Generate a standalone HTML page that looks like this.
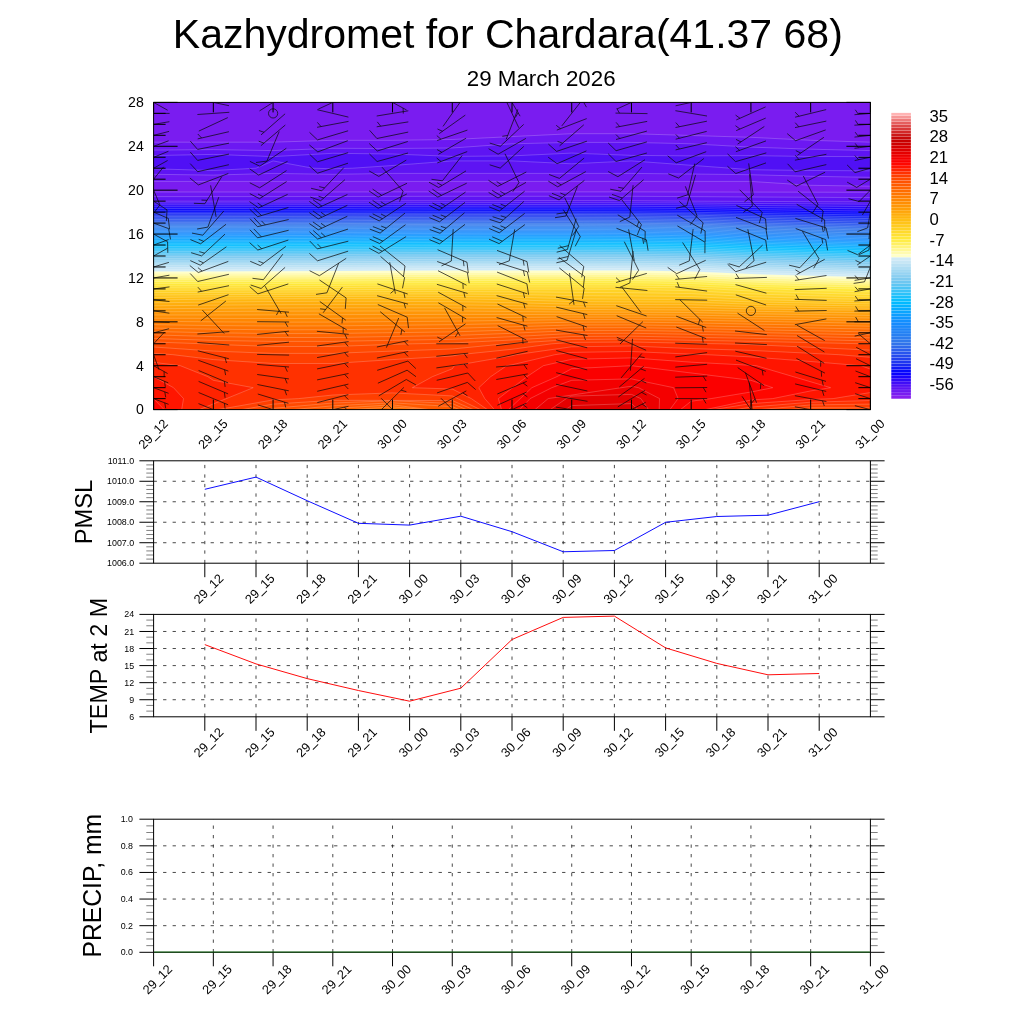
<!DOCTYPE html>
<html><head><meta charset="utf-8"><title>Meteogram</title>
<style>html,body{margin:0;padding:0;background:#fff}svg{display:block}text{font-family:'Liberation Sans', sans-serif;fill:#000;filter:grayscale(1)}</style></head><body>
<svg width="1024" height="1024" viewBox="0 0 1024 1024">
<rect width="1024" height="1024" fill="#fff"/>
<text x="507.80" y="47.50" font-size="41.00" text-anchor="middle" >Kazhydromet for Chardara(41.37 68)</text>
<text x="541.20" y="86.40" font-size="22.30" text-anchor="middle" >29 March 2026</text>
<defs><clipPath id="cp"><rect x="153.60" y="102.40" width="716.80" height="307.20"/></clipPath></defs>
<g clip-path="url(#cp)" stroke="#fff" stroke-opacity="0.42" stroke-width="0.5">
<rect x="151.60" y="100.40" width="720.80" height="311.20" fill="#8820ee" stroke="none"/>
<path fill="#7a1cf0" d="M873.4,99.4L873.4,412.6L150.6,412.6L150.6,99.4Z"/>
<path fill="#6c18f2" d="M571.7,133.7L631.5,133.7L750.9,137.3L810.7,140.3L870.4,142.2L873.4,142.2L873.4,186.2L870.4,186.2L810.7,185.3L750.9,181.4L150.6,181.4L150.6,142.2L273.1,142.2L332.8,140.3L392.5,140.3L452.3,139.5ZM213.3,192.0L273.1,192.0L332.8,192.0L392.5,191.9L452.3,191.9L512.0,191.9L571.7,191.9L631.5,191.9L691.2,192.0L750.9,192.1L810.7,192.2L870.4,192.3L873.4,192.3L873.4,412.6L150.6,412.6L150.6,192.0Z"/>
<path fill="#5e14f3" d="M512.0,143.8L571.7,142.4L631.5,142.4L691.2,143.8L750.9,147.1L810.7,149.2L870.4,150.6L873.4,150.6L873.4,177.3L870.4,177.3L810.7,176.3L750.9,174.7L691.2,174.0L631.5,173.4L392.5,173.4L332.8,174.3L273.1,173.4L213.3,175.1L153.6,174.3L150.6,174.3L150.6,150.1L153.6,150.1L213.3,149.6L273.1,150.6L332.8,148.3L392.5,148.5L452.3,148.0ZM213.3,196.6L273.1,196.6L332.8,196.5L392.5,196.4L452.3,196.3L512.0,196.3L571.7,196.3L631.5,196.3L691.2,196.6L750.9,197.0L810.7,197.3L870.4,197.6L873.4,197.6L873.4,412.6L150.6,412.6L150.6,196.6Z"/>
<path fill="#5010f5" d="M153.6,155.6L213.3,154.4L273.1,156.6L332.8,153.3L392.5,154.0L452.3,156.4L512.0,155.9L571.7,153.1L631.5,155.4L691.2,155.9L750.9,155.6L810.7,156.5L870.4,156.6L873.4,156.6L873.4,170.8L870.4,170.8L810.7,170.5L750.9,169.7L631.5,160.9L571.7,163.8L512.0,160.9L452.3,160.9L392.5,165.5L352.7,168.2L332.8,168.8L312.9,168.2L273.1,160.9L256.0,168.2L213.3,170.5L153.6,168.8L150.6,168.8L150.6,155.6ZM332.8,201.0L392.5,200.8L452.3,200.7L512.0,200.6L571.7,200.6L631.5,200.7L685.1,201.1L691.2,201.2L750.9,201.4L810.7,201.7L870.4,201.9L873.4,201.9L873.4,412.6L150.6,412.6L150.6,201.2L213.3,201.2Z"/>
<path fill="#3e0cf7" d="M213.3,203.0L273.1,203.0L332.8,202.9L392.5,202.8L452.3,202.7L512.0,202.7L571.7,202.7L631.5,202.8L691.2,203.0L750.9,203.5L810.7,203.8L870.4,204.2L873.4,204.2L873.4,412.6L150.6,412.6L150.6,203.0Z"/>
<path fill="#2c09f9" d="M213.3,204.8L273.1,204.8L332.8,204.7L392.5,204.6L452.3,204.5L512.0,204.5L571.7,204.5L631.5,204.5L691.2,204.8L750.9,205.5L810.7,206.0L870.4,206.6L873.4,206.6L873.4,412.6L150.6,412.6L150.6,204.8Z"/>
<path fill="#1b05fc" d="M213.3,206.7L273.1,206.6L332.8,206.5L392.5,206.4L452.3,206.3L512.0,206.2L571.7,206.2L631.5,206.3L691.2,206.7L750.9,207.5L810.7,208.2L870.4,208.9L873.4,208.9L873.4,412.6L150.6,412.6L150.6,206.7Z"/>
<path fill="#0902fe" d="M213.3,208.5L273.1,208.5L332.8,208.4L392.5,208.2L452.3,208.1L512.0,208.0L571.7,208.0L631.5,208.1L691.2,208.5L750.9,209.6L810.7,210.4L870.4,211.2L873.4,211.2L873.4,412.6L150.6,412.6L150.6,208.5Z"/>
<path fill="#0508fc" d="M213.3,210.3L273.1,210.3L332.8,210.2L392.5,210.0L452.3,209.8L512.0,209.8L571.7,209.8L631.5,209.9L691.2,210.4L750.9,211.6L784.6,212.1L810.7,212.5L870.4,213.2L873.4,213.2L873.4,412.6L150.6,412.6L150.6,210.3Z"/>
<path fill="#0f19f8" d="M332.8,212.0L392.5,211.7L452.3,211.6L512.0,211.6L571.7,211.6L631.5,211.7L680.1,212.1L691.2,212.2L750.9,213.3L810.7,214.2L870.4,215.0L873.4,215.0L873.4,412.6L150.6,412.6L150.6,212.2L213.3,212.2Z"/>
<path fill="#192af2" d="M213.3,213.6L273.1,213.6L332.8,213.5L392.5,213.3L452.3,213.2L512.0,213.1L571.7,213.1L631.5,213.2L691.2,213.7L750.9,214.9L810.7,215.9L870.4,216.8L873.4,216.8L873.4,412.6L150.6,412.6L150.6,213.6Z"/>
<path fill="#1f37f0" d="M213.3,215.1L273.1,215.0L332.8,214.9L392.5,214.7L452.3,214.6L512.0,214.5L571.7,214.5L631.5,214.6L691.2,215.1L750.9,216.5L810.7,217.6L870.4,218.6L873.4,218.6L873.4,412.6L150.6,412.6L150.6,215.1Z"/>
<path fill="#2241ef" d="M213.3,216.6L273.1,216.5L332.8,216.4L392.5,216.1L452.3,216.0L512.0,215.9L571.7,215.9L631.5,216.1L691.2,216.6L750.9,218.1L810.7,219.3L870.4,220.4L873.4,220.4L873.4,412.6L150.6,412.6L150.6,216.6Z"/>
<path fill="#254bee" d="M213.3,218.0L273.1,218.0L332.8,217.8L392.5,217.6L452.3,217.4L512.0,217.4L571.7,217.4L631.5,217.5L691.2,218.1L750.9,219.7L810.7,221.0L870.4,222.2L873.4,222.2L873.4,412.6L150.6,412.6L150.6,218.0Z"/>
<path fill="#2855ee" d="M213.3,219.5L273.1,219.4L332.8,219.3L392.5,219.0L452.3,218.9L512.0,218.8L571.7,218.8L631.5,218.9L691.2,219.6L750.9,221.3L810.7,222.7L829.6,223.1L870.4,223.9L873.4,223.9L873.4,412.6L150.6,412.6L150.6,219.5Z"/>
<path fill="#2b5fed" d="M213.3,221.0L273.1,220.9L332.8,220.7L392.5,220.4L452.3,220.3L512.0,220.2L571.7,220.2L631.5,220.4L691.2,221.0L750.9,222.9L758.9,223.1L810.7,224.2L870.4,225.5L873.4,225.5L873.4,412.6L150.6,412.6L150.6,221.0Z"/>
<path fill="#2e69ec" d="M213.3,222.4L273.1,222.4L332.8,222.2L392.5,221.9L452.3,221.7L512.0,221.6L571.7,221.6L631.5,221.8L691.2,222.5L709.7,223.1L750.9,224.3L810.7,225.7L870.4,227.1L873.4,227.1L873.4,412.6L150.6,412.6L150.6,222.4Z"/>
<path fill="#3173eb" d="M512.0,223.1L571.7,223.1L583.5,223.1L631.5,223.2L691.2,223.9L750.9,225.7L810.7,227.2L870.4,228.6L873.4,228.6L873.4,412.6L150.6,412.6L150.6,223.8L213.3,223.8L273.1,223.7L332.8,223.6L392.5,223.3L452.3,223.1L488.4,223.1Z"/>
<path fill="#3079ec" d="M213.3,225.1L273.1,225.0L332.8,224.9L392.5,224.6L452.3,224.4L512.0,224.3L571.7,224.3L631.5,224.5L691.2,225.2L750.9,227.1L810.7,228.7L870.4,230.2L873.4,230.2L873.4,412.6L150.6,412.6L150.6,225.1Z"/>
<path fill="#2c7cef" d="M213.3,226.4L273.1,226.3L332.8,226.2L392.5,225.8L452.3,225.7L512.0,225.6L571.7,225.6L631.5,225.8L691.2,226.5L750.9,228.6L810.7,230.2L870.4,231.8L873.4,231.8L873.4,412.6L150.6,412.6L150.6,226.4Z"/>
<path fill="#277ff2" d="M213.3,227.7L273.1,227.6L332.8,227.4L392.5,227.1L452.3,227.0L512.0,226.9L571.7,226.9L631.5,227.1L691.2,227.8L750.9,230.0L810.7,231.7L870.4,233.4L873.4,233.4L873.4,412.6L150.6,412.6L150.6,227.7Z"/>
<path fill="#2382f5" d="M213.3,229.0L273.1,228.9L332.8,228.7L392.5,228.4L452.3,228.3L512.0,228.2L571.7,228.2L631.5,228.3L691.2,229.1L750.9,231.4L810.7,233.2L841.1,234.1L870.4,234.9L873.4,234.9L873.4,412.6L150.6,412.6L150.6,229.0Z"/>
<path fill="#1f85f8" d="M213.3,230.3L273.1,230.2L332.8,230.0L392.5,229.7L452.3,229.5L512.0,229.5L571.7,229.5L631.5,229.6L691.2,230.4L750.9,232.8L792.1,234.1L810.7,234.6L870.4,236.2L873.4,236.2L873.4,412.6L150.6,412.6L150.6,230.3Z"/>
<path fill="#1a88fb" d="M213.3,231.6L273.1,231.5L332.8,231.3L392.5,231.0L452.3,230.8L512.0,230.7L571.7,230.7L631.5,230.9L691.2,231.7L748.1,234.1L750.9,234.2L810.7,236.1L870.4,237.6L873.4,237.6L873.4,412.6L150.6,412.6L150.6,231.6Z"/>
<path fill="#168bfe" d="M213.3,232.9L273.1,232.8L332.8,232.6L392.5,232.3L452.3,232.1L512.0,232.0L571.7,232.0L631.5,232.2L691.2,233.0L717.3,234.1L750.9,235.7L810.7,237.5L870.4,239.0L873.4,239.0L873.4,412.6L150.6,412.6L150.6,232.9Z"/>
<path fill="#1390ff" d="M332.8,233.9L392.5,233.6L452.3,233.4L512.0,233.3L571.7,233.3L631.5,233.5L676.1,234.1L691.2,234.3L750.9,237.1L810.7,238.9L870.4,240.4L873.4,240.4L873.4,412.6L150.6,412.6L150.6,234.2L213.3,234.2Z"/>
<path fill="#1097ff" d="M213.3,235.7L273.1,235.6L332.8,235.4L392.5,235.0L452.3,234.8L512.0,234.7L571.7,234.7L631.5,234.9L691.2,235.8L750.9,238.6L810.7,240.3L870.4,241.8L873.4,241.8L873.4,412.6L150.6,412.6L150.6,235.7Z"/>
<path fill="#0d9eff" d="M213.3,237.2L273.1,237.1L332.8,236.9L392.5,236.5L452.3,236.3L512.0,236.2L571.7,236.2L631.5,236.4L691.2,237.3L750.9,240.0L810.7,241.7L870.4,243.2L873.4,243.2L873.4,412.6L150.6,412.6L150.6,237.2Z"/>
<path fill="#0aa5ff" d="M213.3,238.7L273.1,238.6L332.8,238.4L392.5,238.0L452.3,237.9L512.0,237.8L571.7,237.8L631.5,238.0L691.2,238.8L750.9,241.5L810.7,243.2L870.4,244.6L873.4,244.6L873.4,412.6L150.6,412.6L150.6,238.7Z"/>
<path fill="#07acff" d="M213.3,240.3L273.1,240.2L332.8,240.0L392.5,239.6L452.3,239.4L512.0,239.3L571.7,239.3L631.5,239.5L691.2,240.4L750.9,242.9L810.7,244.6L829.6,245.0L870.4,246.1L873.4,246.1L873.4,412.6L150.6,412.6L150.6,240.3Z"/>
<path fill="#04b3ff" d="M213.3,241.8L273.1,241.7L332.8,241.5L392.5,241.1L452.3,240.9L512.0,240.8L571.7,240.8L631.5,241.0L691.2,241.9L750.9,244.4L773.9,245.0L810.7,246.1L870.4,247.7L873.4,247.7L873.4,412.6L150.6,412.6L150.6,241.8Z"/>
<path fill="#01baff" d="M213.3,243.3L273.1,243.2L332.8,243.0L392.5,242.6L452.3,242.5L512.0,242.4L571.7,242.4L631.5,242.6L691.2,243.4L730.1,245.0L750.9,246.0L810.7,247.8L870.4,249.3L873.4,249.3L873.4,412.6L150.6,412.6L150.6,243.3Z"/>
<path fill="#09bffe" d="M213.3,244.8L273.1,244.7L332.8,244.5L392.5,244.2L452.3,244.0L512.0,243.9L571.7,243.9L631.5,244.1L691.2,244.9L693.7,245.0L750.9,247.6L810.7,249.4L870.4,250.9L873.4,250.9L873.4,412.6L150.6,412.6L150.6,244.8Z"/>
<path fill="#1ac0fc" d="M213.3,246.5L273.1,246.4L332.8,246.2L392.5,245.8L452.3,245.6L512.0,245.5L571.7,245.5L631.5,245.7L691.2,246.6L750.9,249.3L810.7,251.0L870.4,252.5L873.4,252.5L873.4,412.6L150.6,412.6L150.6,246.5Z"/>
<path fill="#2bc2fa" d="M213.3,248.2L273.1,248.1L332.8,247.9L392.5,247.5L452.3,247.3L512.0,247.2L571.7,247.2L631.5,247.4L691.2,248.3L750.9,250.9L810.7,252.6L870.4,254.1L873.4,254.1L873.4,412.6L150.6,412.6L150.6,248.2Z"/>
<path fill="#3cc3f8" d="M213.3,249.9L273.1,249.8L332.8,249.6L392.5,249.2L452.3,249.0L512.0,248.9L571.7,248.9L631.5,249.1L691.2,250.0L750.9,252.5L810.7,254.2L870.4,255.7L873.4,255.7L873.4,412.6L150.6,412.6L150.6,249.9Z"/>
<path fill="#4dc4f5" d="M213.3,251.5L273.1,251.4L332.8,251.2L392.5,250.9L452.3,250.7L512.0,250.6L571.7,250.6L631.5,250.8L691.2,251.7L750.9,254.2L810.7,255.8L816.9,256.0L870.4,257.4L873.4,257.4L873.4,412.6L150.6,412.6L150.6,251.5Z"/>
<path fill="#5ec6f3" d="M213.3,253.2L273.1,253.1L332.8,252.9L392.5,252.6L452.3,252.4L512.0,252.3L571.7,252.3L631.5,252.5L691.2,253.3L750.9,255.8L756.9,256.0L810.7,257.6L870.4,259.1L873.4,259.1L873.4,412.6L150.6,412.6L150.6,253.2Z"/>
<path fill="#6fc7f1" d="M213.3,254.9L273.1,254.8L332.8,254.6L392.5,254.2L452.3,254.1L512.0,254.0L571.7,254.0L631.5,254.2L691.2,255.0L714.7,256.0L750.9,257.6L810.7,259.3L870.4,260.9L873.4,260.9L873.4,412.6L150.6,412.6L150.6,254.9Z"/>
<path fill="#7ecaf0" d="M392.5,255.9L452.3,255.8L512.0,255.7L571.7,255.7L631.5,255.8L642.0,256.0L691.2,256.8L750.9,259.4L810.7,261.1L870.4,262.6L873.4,262.6L873.4,412.6L150.6,412.6L150.6,256.6L213.3,256.6L273.1,256.5L332.8,256.3L383.5,256.0Z"/>
<path fill="#8acff1" d="M213.3,258.4L273.1,258.3L332.8,258.1L392.5,257.7L452.3,257.5L512.0,257.4L571.7,257.4L631.5,257.6L691.2,258.5L750.9,261.1L810.7,262.8L870.4,264.3L873.4,264.3L873.4,412.6L150.6,412.6L150.6,258.4Z"/>
<path fill="#96d3f2" d="M213.3,260.2L273.1,260.1L332.8,259.9L392.5,259.6L452.3,259.4L512.0,259.3L571.7,259.3L631.5,259.5L691.2,260.3L750.9,262.9L810.7,264.6L870.4,266.1L873.4,266.1L873.4,412.6L150.6,412.6L150.6,260.2Z"/>
<path fill="#a2d8f2" d="M213.3,262.0L273.1,261.9L332.8,261.7L392.5,261.4L452.3,261.2L512.0,261.1L571.7,261.1L631.5,261.3L691.2,262.1L750.9,264.7L810.7,266.4L836.0,267.0L870.4,267.9L873.4,267.9L873.4,412.6L150.6,412.6L150.6,262.0Z"/>
<path fill="#afddf3" d="M213.3,263.8L273.1,263.7L332.8,263.5L392.5,263.2L452.3,263.0L512.0,262.9L571.7,262.9L631.5,263.1L691.2,263.9L750.9,266.4L769.8,267.0L810.7,268.2L870.4,269.7L873.4,269.7L873.4,412.6L150.6,412.6L150.6,263.8Z"/>
<path fill="#bbe1f4" d="M213.3,265.6L273.1,265.5L332.8,265.3L392.5,265.0L452.3,264.8L512.0,264.7L571.7,264.7L631.5,264.9L691.2,265.7L720.8,267.0L750.9,268.3L810.7,270.1L870.4,271.6L873.4,271.6L873.4,412.6L150.6,412.6L150.6,265.6Z"/>
<path fill="#c7e6f5" d="M392.5,266.8L452.3,266.6L512.0,266.5L571.7,266.5L631.5,266.7L651.5,267.0L691.2,267.6L750.9,270.2L810.7,272.0L870.4,273.5L873.4,273.5L873.4,412.6L150.6,412.6L150.6,267.5L213.3,267.5L273.1,267.4L332.8,267.2L361.4,267.0Z"/>
<path fill="#d0eaf6" d="M213.3,269.4L273.1,269.3L332.8,269.1L392.5,268.7L452.3,268.5L512.0,268.4L571.7,268.4L631.5,268.6L691.2,269.5L750.9,272.1L810.7,273.9L870.4,275.3L873.4,275.3L873.4,412.6L150.6,412.6L150.6,269.4Z"/>
<path fill="#ffffc8" d="M213.3,271.4L273.1,271.3L332.8,271.1L392.5,270.7L452.3,270.5L512.0,270.4L571.7,270.4L631.5,270.6L691.2,271.5L750.9,274.1L810.7,275.8L870.4,277.2L873.4,277.2L873.4,412.6L150.6,412.6L150.6,271.4Z"/>
<path fill="#fffbaf" d="M213.3,273.3L273.1,273.2L332.8,273.1L392.5,272.7L452.3,272.5L512.0,272.4L571.7,272.4L631.5,272.6L691.2,273.4L750.9,276.0L810.7,277.7L822.7,277.9L870.4,279.2L873.4,279.2L873.4,412.6L150.6,412.6L150.6,273.3Z"/>
<path fill="#fff895" d="M213.3,275.3L273.1,275.2L332.8,275.0L392.5,274.6L452.3,274.4L512.0,274.4L571.7,274.4L631.5,274.5L691.2,275.4L750.9,277.9L752.4,277.9L810.7,279.7L870.4,281.2L873.4,281.2L873.4,412.6L150.6,412.6L150.6,275.3Z"/>
<path fill="#fff47c" d="M213.3,277.3L273.1,277.2L332.8,277.0L392.5,276.6L452.3,276.4L512.0,276.3L571.7,276.3L631.5,276.5L691.2,277.4L705.1,277.9L750.9,280.0L810.7,281.8L870.4,283.3L873.4,283.3L873.4,412.6L150.6,412.6L150.6,277.3Z"/>
<path fill="#fff062" d="M213.3,279.3L273.1,279.2L332.8,279.0L392.5,278.6L452.3,278.4L512.0,278.3L571.7,278.3L631.5,278.5L691.2,279.5L750.9,282.1L810.7,283.8L870.4,285.3L873.4,285.3L873.4,412.6L150.6,412.6L150.6,279.3Z"/>
<path fill="#ffed49" d="M213.3,281.5L273.1,281.4L332.8,281.2L392.5,280.8L452.3,280.6L512.0,280.5L571.7,280.5L631.5,280.7L691.2,281.6L750.9,284.2L810.7,285.9L870.4,287.4L873.4,287.4L873.4,412.6L150.6,412.6L150.6,281.5Z"/>
<path fill="#ffe839" d="M213.3,283.6L273.1,283.5L332.8,283.3L392.5,282.9L452.3,282.7L512.0,282.6L571.7,282.6L631.5,282.8L691.2,283.7L750.9,286.3L810.7,288.0L849.6,288.9L870.4,289.5L873.4,289.5L873.4,412.6L150.6,412.6L150.6,283.6Z"/>
<path fill="#ffe033" d="M213.3,285.8L273.1,285.7L332.8,285.5L392.5,285.1L452.3,284.9L512.0,284.8L571.7,284.8L631.5,285.0L691.2,285.9L750.9,288.4L769.4,288.9L810.7,290.4L870.4,292.0L873.4,292.0L873.4,412.6L150.6,412.6L150.6,285.8Z"/>
<path fill="#ffda2c" d="M213.3,287.9L273.1,287.8L332.8,287.6L392.5,287.2L452.3,287.1L512.0,287.0L571.7,287.0L631.5,287.2L691.2,288.0L712.1,288.9L750.9,291.0L810.7,293.0L870.4,294.5L873.4,294.5L873.4,412.6L150.6,412.6L150.6,287.9Z"/>
<path fill="#ffd226" d="M153.6,290.2L213.3,290.2L273.1,290.0L332.8,289.8L392.5,289.4L452.3,289.2L512.0,289.2L571.7,289.2L631.5,289.5L691.2,290.7L750.9,293.9L810.7,295.7L870.4,297.0L873.4,297.0L873.4,412.6L150.6,412.6L150.6,290.2Z"/>
<path fill="#ffcc20" d="M153.6,292.6L213.3,292.4L273.1,292.2L332.8,292.0L392.5,291.7L452.3,291.6L512.0,291.8L571.7,292.4L631.5,292.7L691.2,293.6L750.9,296.7L810.7,298.3L870.4,299.5L873.4,299.5L873.4,412.6L150.6,412.6L150.6,292.6Z"/>
<path fill="#ffc419" d="M153.6,295.1L213.3,294.7L273.1,294.4L332.8,294.2L392.5,294.0L452.3,294.0L512.0,294.5L571.7,295.6L631.5,296.0L691.2,296.5L750.9,299.5L766.6,299.9L810.7,300.8L870.4,301.7L873.4,301.7L873.4,412.6L150.6,412.6L150.6,295.1Z"/>
<path fill="#ffbe13" d="M153.6,297.5L213.3,296.9L273.1,296.6L332.8,296.4L392.5,296.3L452.3,296.4L512.0,297.1L571.7,298.8L631.5,299.2L691.2,299.5L699.3,299.9L750.9,301.9L810.7,303.0L870.4,303.9L873.4,303.9L873.4,412.6L150.6,412.6L150.6,297.5Z"/>
<path fill="#ffb60f" d="M153.6,299.9L213.3,299.2L273.1,298.8L332.8,298.6L392.5,298.7L452.3,298.8L512.0,299.8L514.6,299.9L571.7,301.6L631.5,301.9L691.2,302.1L750.9,304.2L810.7,305.2L870.4,306.0L873.4,306.0L873.4,412.6L150.6,412.6L150.6,299.9Z"/>
<path fill="#ffae0d" d="M153.6,302.8L213.3,302.1L273.1,301.5L332.8,301.3L392.5,301.4L452.3,301.6L512.0,302.7L571.7,304.2L631.5,304.5L691.2,304.7L750.9,306.6L810.7,307.5L870.4,308.2L873.4,308.2L873.4,412.6L150.6,412.6L150.6,302.8Z"/>
<path fill="#ffa60a" d="M153.6,305.8L213.3,305.2L273.1,304.7L332.8,304.6L392.5,304.6L452.3,304.8L512.0,305.6L571.7,306.9L631.5,307.1L691.2,307.4L750.9,308.9L810.7,309.7L870.4,310.3L873.4,310.3L873.4,412.6L150.6,412.6L150.6,305.8Z"/>
<path fill="#ff9e08" d="M153.6,308.8L213.3,308.3L273.1,308.0L332.8,307.8L392.5,307.8L452.3,307.9L512.0,308.6L571.7,309.5L631.5,309.7L691.2,310.0L730.6,310.9L750.9,311.3L810.7,312.1L870.4,312.8L873.4,312.8L873.4,412.6L150.6,412.6L150.6,308.8Z"/>
<path fill="#ff9606" d="M153.6,311.8L213.3,311.5L273.1,311.2L332.8,311.1L392.5,311.0L452.3,311.0L512.0,311.5L571.7,312.1L631.5,312.2L691.2,312.5L750.9,313.8L810.7,314.6L870.4,315.4L873.4,315.4L873.4,412.6L150.6,412.6L150.6,311.8Z"/>
<path fill="#ff8e03" d="M153.6,315.0L213.3,315.0L273.1,314.9L332.8,314.7L392.5,314.5L452.3,314.4L512.0,314.5L571.7,314.6L631.5,314.7L691.2,315.1L750.9,316.3L810.7,317.2L870.4,318.0L873.4,318.0L873.4,412.6L150.6,412.6L150.6,315.0Z"/>
<path fill="#ff8601" d="M153.6,318.2L213.3,318.4L273.1,318.5L332.8,318.4L392.5,318.1L452.3,317.8L512.0,317.5L571.7,317.1L631.5,317.2L691.2,317.6L750.9,318.8L810.7,319.7L870.4,320.5L873.4,320.5L873.4,412.6L150.6,412.6L150.6,318.2Z"/>
<path fill="#ff7e00" d="M153.6,321.3L205.5,321.8L213.3,321.9L273.1,322.2L332.8,322.1L363.6,321.8L392.5,321.6L452.3,321.2L512.0,320.4L571.7,319.6L631.5,319.6L691.2,320.2L750.9,321.3L784.4,321.8L810.7,322.3L870.4,323.3L873.4,323.3L873.4,412.6L150.6,412.6L150.6,321.3Z"/>
<path fill="#ff7500" d="M153.6,324.7L213.3,325.6L273.1,326.0L332.8,325.9L392.5,325.3L452.3,324.7L512.0,323.5L571.7,322.2L631.5,322.1L691.2,322.9L750.9,324.1L810.7,325.1L870.4,326.2L873.4,326.2L873.4,412.6L150.6,412.6L150.6,324.7Z"/>
<path fill="#ff6d00" d="M153.6,328.1L213.3,329.2L273.1,329.8L332.8,329.7L392.5,329.0L452.3,328.3L512.0,326.8L571.7,325.0L631.5,324.9L691.2,325.7L750.9,326.9L810.7,328.0L870.4,329.0L873.4,329.0L873.4,412.6L400.3,412.6L400.3,409.6L392.5,409.0L383.1,409.6L383.1,412.6L150.6,412.6L150.6,328.1Z"/>
<path fill="#ff6400" d="M153.6,331.5L212.3,332.8L213.3,332.8L273.1,333.6L332.8,333.5L382.4,332.8L392.5,332.7L452.3,331.9L512.0,330.0L571.7,327.8L631.5,327.7L691.2,328.6L750.9,329.7L810.7,330.8L870.4,331.9L873.4,331.9L873.4,412.6L426.3,412.6L426.3,409.6L392.5,406.9L351.7,409.6L351.7,412.6L150.6,412.6L150.6,331.5Z"/>
<path fill="#ff5b00" d="M571.7,330.7L631.5,330.5L691.2,331.4L750.9,332.5L768.5,332.8L810.7,333.7L870.4,334.9L873.4,334.9L873.4,412.6L452.3,412.6L392.5,404.8L332.8,408.5L321.4,409.6L321.4,412.6L150.6,412.6L150.6,334.9L153.6,334.9L213.3,336.6L273.1,337.5L332.8,337.5L392.5,336.5L452.3,335.6L512.0,333.3L521.5,332.8Z"/>
<path fill="#ff5300" d="M153.6,338.5L213.3,340.4L273.1,341.4L332.8,341.4L392.5,340.3L452.3,339.3L512.0,336.7L571.7,333.5L631.5,333.3L691.2,334.3L750.9,335.4L810.7,336.6L870.4,337.9L873.4,337.9L873.4,412.6L459.3,412.6L459.3,409.6L452.3,406.6L392.5,402.8L332.8,405.8L293.0,409.6L293.0,412.6L150.6,412.6L150.6,338.5Z"/>
<path fill="#ff4a00" d="M153.6,342.0L203.4,343.8L213.3,344.4L273.1,346.5L332.8,346.5L392.5,344.4L412.4,343.8L452.3,343.0L512.0,340.0L571.7,336.5L631.5,336.2L691.2,337.3L750.9,338.3L810.7,339.6L870.4,340.9L873.4,340.9L873.4,412.6L466.3,412.6L466.3,409.6L452.3,403.5L392.5,400.7L332.8,403.0L273.1,408.3L265.9,409.6L265.9,412.6L150.6,412.6L150.6,342.0Z"/>
<path fill="#ff3f00" d="M512.0,343.4L571.7,339.5L631.5,339.1L691.2,340.3L750.9,341.3L810.7,342.6L863.8,343.8L870.4,344.1L873.4,344.1L873.4,407.8L870.4,407.8L810.7,407.7L789.8,409.6L789.8,412.6L473.3,412.6L473.3,409.6L452.3,400.5L332.8,400.3L273.1,404.1L242.0,409.6L242.0,412.6L150.6,412.6L150.6,347.0L153.6,347.0L213.3,351.1L273.1,353.4L332.8,353.4L392.5,351.1L452.3,349.0L505.4,343.8Z"/>
<path fill="#ff3100" d="M571.7,342.4L631.5,342.0L691.2,343.3L721.1,343.8L750.9,344.6L810.7,347.3L870.4,350.2L873.4,350.2L873.4,404.1L870.4,404.1L810.7,404.9L759.9,409.6L759.9,412.6L480.4,412.6L480.4,409.6L457.7,398.6L452.3,395.9L392.5,392.9L332.8,395.0L298.7,398.6L273.1,399.9L218.1,409.6L218.1,412.6L150.6,412.6L150.6,353.3L153.6,353.3L172.9,354.7L213.3,359.6L273.1,363.5L332.8,363.5L392.5,359.6L452.3,356.0L459.3,354.7L512.0,349.3L551.8,343.8Z"/>
<path fill="#ff2300" d="M571.7,346.8L631.5,346.0L691.2,348.6L750.9,350.4L810.7,353.3L838.8,354.7L870.4,357.3L873.4,357.3L873.4,400.5L870.4,400.5L810.7,402.2L750.9,407.1L735.4,409.6L735.4,412.6L487.4,412.6L487.4,409.6L471.3,398.6L452.3,389.0L412.4,387.7L432.4,376.7L452.3,368.8L454.4,365.7L512.0,355.7L515.9,354.7ZM153.6,362.4L180.3,365.7L207.9,376.7L213.3,380.3L253.2,387.7L199.3,409.6L199.3,412.6L150.6,412.6L150.6,362.4Z"/>
<path fill="#ff1500" d="M571.7,352.4L631.5,351.5L691.2,354.2L707.0,354.7L750.9,356.9L810.7,361.5L861.0,365.7L870.4,369.1L873.4,369.1L873.4,392.5L870.4,392.5L833.1,398.6L810.7,399.5L750.9,403.6L713.3,409.6L713.3,412.6L494.4,412.6L494.4,409.6L484.8,398.6L478.8,387.7L490.7,376.7L506.8,365.7L512.0,364.8L554.9,354.7ZM153.6,376.7L173.5,387.7L183.5,398.6L181.7,409.6L181.7,412.6L150.6,412.6L150.6,376.7Z"/>
<path fill="#ff0700" d="M571.7,359.3L631.5,357.9L691.2,362.2L750.9,365.3L756.2,365.7L830.6,387.7L810.7,390.9L772.7,398.6L750.9,400.0L691.2,412.6L501.5,412.6L501.5,409.6L498.4,398.6L526.9,376.7L543.4,365.7ZM153.6,398.6L164.1,409.6L164.1,412.6L150.6,412.6L150.6,398.6Z"/>
<path fill="#fb0000" d="M571.7,368.7L631.5,365.7L750.9,380.3L772.7,387.7L750.9,392.0L711.1,398.6L691.2,401.2L680.5,409.6L680.5,412.6L508.5,412.6L508.5,409.6L531.9,387.7L556.8,376.7Z"/>
<path fill="#f40000" d="M571.7,380.3L631.5,378.9L673.6,387.7L678.1,398.6L669.9,409.6L669.9,412.6L519.7,412.6L519.7,409.6L530.1,398.6L551.8,387.7Z"/>
<path fill="#ec0000" d="M631.5,386.2L638.5,387.7L659.5,398.6L659.2,409.6L659.2,412.6L535.0,412.6L535.0,409.6L548.2,398.6Z"/>
<path fill="#e50000" d="M571.7,396.1L631.5,394.4L640.8,398.6L648.5,409.6L648.5,412.6L550.3,412.6L550.3,409.6L566.3,398.6Z"/>
<path fill="#dd0000" d="M571.7,405.6L631.5,403.6L637.9,409.6L637.9,412.6L565.6,412.6L565.6,409.6Z"/>
</g>
<g clip-path="url(#cp)" stroke="#0a0a0a" stroke-width="0.72" fill="none" stroke-linecap="butt">
<path d="M229.0 105.7L197.7 99.1M229.3 112.3L197.4 114.5M227.8 117.6L198.8 131.1M228.9 131.7L197.7 138.9M201.6 138.0l-3.8 -4.0M229.0 143.2L197.6 149.4M197.6 149.4l-7.3 -8.3M229.0 154.1L197.6 160.4M197.6 160.4l-7.3 -8.3M228.9 164.7L197.7 171.7M197.7 171.7l-7.5 -8.1M228.3 173.5L198.4 184.9M198.4 184.9l-8.5 -6.9M221.8 176.6L204.9 203.7M204.9 203.7l-11.0 -0.4M207.0 200.3l-5.5 -0.2M210.6 185.4L216.1 216.9M218.8 197.1L207.9 227.1M207.9 227.1l-10.8 1.9M223.8 211.0L202.8 235.2M202.8 235.2l-10.8 -2.1M226.0 224.3L200.6 243.8M200.6 243.8l-10.2 -4.2M203.8 241.4l-5.1 -2.1M225.0 234.1L201.6 255.9M201.6 255.9l-10.5 -3.2M204.6 253.2l-5.3 -1.6M226.4 246.8L200.3 265.2M200.3 265.2l-10.0 -4.6M203.5 262.9l-5.0 -2.3M228.3 261.4L198.3 272.5M198.3 272.5l-8.5 -7.0M202.1 271.1l-4.2 -3.5M228.9 274.3L197.7 281.5M197.7 281.5l-7.5 -8.0M229.0 285.7L197.7 292.1M201.6 291.3l-3.7 -4.1M228.5 294.7L198.2 305.1M225.9 301.0L200.8 320.8M202.4 310.1L224.2 333.5M229.3 331.6L197.4 334.0M197.4 342.5L229.3 345.0M197.8 350.8L228.8 358.7M225.0 357.7l1.5 5.3M198.3 360.3L228.4 371.1M224.6 369.7l1.0 5.4M198.6 370.5L228.1 382.9M224.4 381.4l0.7 5.5M198.6 381.4L228.1 393.9M224.4 392.3l0.7 5.5M198.6 392.5L228.1 404.8M224.4 403.2l0.7 5.5M198.5 403.6L228.2 415.6M224.5 414.1l0.8 5.4M286.6 93.9L259.5 110.9M285.1 113.8L261.0 134.9M264.1 132.3l-5.2 -1.8M285.3 125.0L260.9 145.7M263.9 143.1l-5.2 -1.9M279.2 131.5L266.9 161.1M266.9 161.1l-10.9 1.4M286.3 148.3L259.8 166.2M259.8 166.2l-9.9 -4.8M287.5 161.4L258.6 175.1M258.6 175.1l-9.0 -6.3M286.5 170.6L259.6 187.8M259.6 187.8l-9.8 -5.0M286.6 181.6L259.5 198.7M259.5 198.7l-9.7 -5.1M262.9 196.6l-4.9 -2.6M287.6 194.4L258.5 207.9M258.5 207.9l-9.0 -6.3M262.2 206.2l-4.5 -3.2M288.4 207.5L257.7 216.7M257.7 216.7l-8.0 -7.5M261.6 215.6l-8.0 -7.5M288.7 219.5L257.5 226.7M257.5 226.7l-7.5 -8.0M261.4 225.8l-7.5 -8.0M265.3 224.9l-3.8 -4.0M288.6 230.3L257.5 237.8M257.5 237.8l-7.6 -8.0M261.4 236.9l-7.6 -8.0M288.3 240.1L257.8 250.0M257.8 250.0l-8.2 -7.4M261.7 248.7l-4.1 -3.7M285.8 246.4L260.3 265.6M260.3 265.6l-10.1 -4.3M263.5 263.2l-5.1 -2.1M282.8 254.2L263.4 279.7M263.4 279.7l-10.9 -1.4M285.1 267.4L261.1 288.5M261.1 288.5l-10.4 -3.5M288.3 283.9L257.9 293.9M257.9 293.9l-8.2 -7.3M265.0 286.1L281.1 313.7M279.1 310.3l-2.7 4.8M257.1 309.5L289.0 312.2M285.0 311.9l2.3 5.0M257.1 321.7L289.1 322.0M285.1 322.0l2.7 4.8M257.1 334.4L289.0 331.2M285.0 331.6l3.2 4.5M257.1 345.4L289.0 342.2M257.1 354.4L289.1 355.1M257.1 364.4L289.0 367.0M285.0 366.7l2.4 5.0M257.2 374.5L288.9 378.9M285.0 378.3l2.1 5.1M257.4 384.5L288.8 390.8M284.8 390.0l1.8 5.2M257.8 394.0L288.4 403.3M284.5 402.1l1.2 5.4M257.8 404.9L288.4 414.3M284.5 413.1l1.2 5.4M167.6 110.2L139.6 94.6M169.6 113.4L137.6 113.4M169.4 121.7L137.8 127.0M169.1 131.4L138.1 139.3M168.6 140.8L138.6 151.8M168.4 151.3L138.8 163.3M167.6 160.5L139.6 176.0M163.7 166.8L143.5 191.6M147.3 175.4L159.9 204.9M159.9 204.9l-6.6 8.8M140.2 192.4L167.0 209.9M167.0 209.9l-0.6 11.0M138.9 205.9L168.3 218.4M168.3 218.4l1.3 10.9M138.6 217.6L168.6 228.6M168.6 228.6l1.9 10.8M139.6 226.3L167.6 241.8M167.6 241.8l0.2 11.0M168.6 239.6L138.6 250.5M167.6 248.2L139.6 263.8M168.9 262.4L138.3 271.5M169.4 275.2L137.8 280.7M169.5 286.9L137.7 291.0M169.5 301.5L137.7 298.3M169.4 313.2L137.8 308.5M169.6 322.4L137.6 321.3M169.1 328.7L138.1 336.9M164.5 332.1L142.7 355.5M148.1 339.7L159.1 369.8M139.6 358.0L167.6 373.5M164.1 371.5l0.1 5.5M138.9 370.4L168.3 382.9M164.6 381.4l0.7 5.5M138.6 382.0L168.6 393.3M164.8 391.9l0.9 5.4M138.6 393.0L168.6 404.3M164.8 402.9l0.9 5.4M138.6 404.1L168.6 415.1M164.9 413.7l1.0 5.4M347.3 95.7L318.3 109.1M317.2 109.7L348.4 117.1M348.5 121.4L317.1 127.3M321.0 126.6l-3.6 -4.2M348.1 130.8L317.5 139.9M317.5 139.9l-8.0 -7.6M347.8 140.7L317.8 151.9M317.8 151.9l-8.5 -7.0M348.1 152.7L317.5 161.8M317.5 161.8l-8.0 -7.6M348.0 163.2L317.6 173.2M317.6 173.2l-8.2 -7.3M343.8 167.6L321.8 190.8M321.8 190.8l-10.7 -2.5M324.6 187.9l-5.4 -1.3M344.9 179.7L320.7 200.7M320.7 200.7l-10.4 -3.6M323.7 198.0l-5.2 -1.8M347.4 194.5L318.2 207.8M318.2 207.8l-8.9 -6.4M321.9 206.1l-8.9 -6.4M347.3 205.4L318.3 218.9M318.3 218.9l-9.0 -6.3M321.9 217.2l-9.0 -6.3M325.5 215.5l-4.5 -3.2M347.3 216.3L318.3 229.8M318.3 229.8l-9.0 -6.3M321.9 228.2l-9.0 -6.3M325.5 226.5l-4.5 -3.2M348.0 229.1L317.6 239.0M317.6 239.0l-8.2 -7.3M321.4 237.8l-8.2 -7.3M325.2 236.5l-4.1 -3.7M348.3 241.2L317.3 248.9M317.3 248.9l-7.6 -7.9M321.2 247.9l-3.8 -4.0M348.1 251.2L317.5 260.8M317.5 260.8l-8.1 -7.4M346.2 258.3L319.4 275.7M319.4 275.7l-9.8 -5.0M338.7 263.1L326.9 292.8M326.9 292.8l-10.9 1.6M319.5 280.0L346.1 297.9M346.1 297.9l-0.8 11.0M342.4 287.1L323.2 312.7M325.6 309.5l-5.5 -0.7M319.8 301.5L345.8 320.2M342.5 317.9l-0.5 5.5M318.9 313.8L346.7 329.8M343.2 327.8l0.0 5.5M316.9 331.3L348.7 334.3M344.7 333.9l2.3 5.0M317.0 346.0L348.6 341.6M344.7 342.1l3.4 4.3M317.1 357.6L348.5 351.9M344.6 352.6l3.6 4.2M317.1 368.9L348.5 362.5M344.6 363.3l3.7 4.1M317.1 379.9L348.5 373.5M344.6 374.3l3.7 4.1M317.2 391.3L348.4 384.1M344.5 385.0l3.8 4.0M317.3 402.6L348.3 394.6M344.4 395.6l3.9 3.9M317.1 412.9L348.5 406.3M344.5 407.1l3.7 4.1M378.5 94.8L406.6 110.0M403.1 108.1l0.2 5.5M408.3 110.8L376.7 116.0M408.3 121.9L376.7 126.8M380.7 126.2l-3.4 -4.3M408.2 132.1L376.9 138.5M376.9 138.5l-7.3 -8.2M407.8 141.5L377.3 151.0M377.3 151.0l-8.1 -7.5M408.0 153.0L377.1 161.5M377.1 161.5l-7.8 -7.7M406.3 160.1L378.8 176.4M378.8 176.4l-9.6 -5.4M382.0 167.2L403.1 191.2M403.1 191.2l-3.5 10.4M407.0 183.3L378.1 197.1M378.1 197.1l-9.1 -6.2M381.7 195.3l-9.1 -6.2M406.8 194.0L378.2 208.3M378.2 208.3l-9.2 -6.1M381.8 206.5l-9.2 -6.1M385.4 204.7l-4.6 -3.0M405.9 203.3L379.2 220.9M379.2 220.9l-9.8 -4.9M382.5 218.7l-9.8 -4.9M385.9 216.5l-4.9 -2.5M405.0 213.1L380.1 233.1M380.1 233.1l-10.3 -4.0M383.2 230.6l-10.3 -4.0M386.3 228.1l-5.1 -2.0M405.5 224.7L379.6 243.5M379.6 243.5l-10.0 -4.5M382.8 241.1l-10.0 -4.5M406.1 236.6L378.9 253.4M378.9 253.4l-9.7 -5.2M382.3 251.3l-9.7 -5.2M380.0 246.0L405.0 266.0M405.0 266.0l-1.6 10.9M380.5 256.4L404.6 277.5M404.6 277.5l-2.1 10.8M389.7 262.2L395.4 293.7M394.7 289.8l-4.2 3.6M377.4 283.9L407.7 294.0M403.9 292.7l1.1 5.4M377.1 295.7L408.0 304.1M404.1 303.0l1.4 5.3M377.8 304.5L407.2 317.2M407.2 317.2l1.3 10.9M380.2 311.7L404.9 332.0M401.8 329.5l-0.9 5.4M398.7 318.0L386.4 347.6M376.9 347.0L408.2 340.6M404.3 341.4l3.7 4.1M376.9 358.0L408.2 351.5M404.3 352.3l3.7 4.1M377.2 370.3L407.9 361.1M407.9 361.1l8.0 7.5M377.9 383.2L407.1 370.2M407.1 370.2l8.9 6.5M378.8 395.8L406.3 379.5M406.3 379.5l9.6 5.4M381.1 409.9L403.9 387.4M401.1 390.2l5.3 1.5M381.2 398.3L403.8 420.9M436.3 102.4L468.3 102.4M461.5 100.3L443.0 126.4M465.3 115.1L439.2 133.6M442.5 131.3l-5.0 -2.3M467.4 130.1L437.1 140.5M440.9 139.2l-4.1 -3.6M466.1 138.2L438.4 154.3M441.9 152.3l-4.8 -2.7M467.2 151.6L437.3 162.9M441.0 161.5l-4.3 -3.5M462.1 155.6L442.4 180.8M442.4 180.8l-10.9 -1.5M466.0 170.9L438.6 187.5M438.6 187.5l-9.6 -5.3M442.0 185.4l-4.8 -2.6M466.7 183.2L437.8 197.1M437.8 197.1l-9.1 -6.2M441.5 195.4l-9.1 -6.2M465.5 192.1L439.1 210.2M439.1 210.2l-9.9 -4.8M442.4 207.9l-9.9 -4.8M445.7 205.7l-5.0 -2.4M465.0 202.4L439.5 221.8M439.5 221.8l-10.1 -4.2M442.7 219.4l-10.1 -4.2M445.9 217.0l-5.1 -2.1M464.5 212.8L440.0 233.3M440.0 233.3l-10.3 -3.8M443.1 230.8l-10.3 -3.8M446.1 228.2l-5.2 -1.9M465.0 224.4L439.5 243.8M439.5 243.8l-10.1 -4.2M442.7 241.3l-10.1 -4.2M453.2 229.1L451.3 261.0M451.3 261.0l-9.8 4.9M437.6 249.7L467.0 262.3M467.0 262.3l1.3 10.9M463.3 260.7l0.7 5.5M437.2 261.5L467.3 272.4M467.3 272.4l1.9 10.8M438.0 270.7L466.5 285.2M462.9 283.4l0.3 5.5M436.9 284.3L467.6 293.5M463.8 292.4l1.3 5.4M438.2 292.2L466.3 307.5M462.8 305.6l0.1 5.5M438.4 302.8L466.1 318.9M462.6 316.9l-0.0 5.5M444.5 307.8L460.0 335.8M458.1 332.3l-2.8 4.7M465.5 323.8L439.0 341.8M442.3 339.5l-5.0 -2.4M436.3 343.8L468.3 343.8M436.3 356.3L468.2 353.2M464.2 353.6l3.2 4.5M436.4 367.9L468.1 363.5M464.1 364.0l3.4 4.3M436.7 380.3L467.8 373.0M467.8 373.0l7.5 8.0M437.1 392.9L467.4 382.4M467.4 382.4l8.3 7.2M438.2 406.3L466.3 390.9M462.8 392.9l4.7 2.9M441.0 398.3L463.6 420.9M503.9 88.6L520.1 116.2M518.1 112.7l-2.7 4.8M505.2 98.9L518.8 127.8M517.8 109.4L506.2 139.3M507.7 135.5l-5.4 0.8M523.7 124.4L500.3 146.3M500.3 146.3l-10.5 -3.2M525.9 138.4L498.1 154.2M498.1 154.2l-9.5 -5.5M523.8 146.4L500.2 168.1M500.2 168.1l-10.5 -3.3M505.0 153.8L519.0 182.6M519.0 182.6l-6.2 9.1M526.3 172.0L497.7 186.4M497.7 186.4l-9.2 -6.1M501.3 184.6l-4.6 -3.0M526.0 182.4L498.0 198.0M498.0 198.0l-9.4 -5.6M501.5 196.0l-9.4 -5.6M505.0 194.1l-4.7 -2.8M524.6 191.2L499.4 211.0M499.4 211.0l-10.2 -4.1M502.6 208.6l-10.2 -4.1M505.7 206.1l-5.1 -2.0M523.9 201.4L500.1 222.8M500.1 222.8l-10.5 -3.4M503.1 220.1l-10.5 -3.4M506.0 217.5l-5.2 -1.7M524.7 213.4L499.3 232.8M499.3 232.8l-10.1 -4.3M502.4 230.3l-10.1 -4.3M505.6 227.9l-5.1 -2.1M524.9 224.6L499.1 243.6M499.1 243.6l-10.1 -4.4M502.3 241.2l-10.1 -4.4M514.7 229.3L509.3 260.8M509.3 260.8l-10.3 3.8M497.0 250.4L527.0 261.6M527.0 261.6l1.8 10.8M523.2 260.2l0.9 5.4M496.7 262.2L527.3 271.8M527.3 271.8l2.4 10.7M523.4 270.6l1.2 5.4M497.1 272.1L526.9 283.8M526.9 283.8l1.7 10.9M496.8 284.0L527.2 293.8M523.4 292.6l1.2 5.4M496.6 295.6L527.4 304.2M523.6 303.1l1.4 5.3M497.5 304.0L526.5 317.7M522.8 316.0l0.5 5.5M496.6 317.5L527.4 326.2M523.6 325.1l1.4 5.3M497.7 325.6L526.3 340.0M522.7 338.2l0.3 5.5M496.1 345.7L527.9 341.8M496.4 358.2L527.6 351.3M496.1 367.0L527.9 364.4M524.0 364.8l3.1 4.5M496.3 379.5L527.7 373.9M523.8 374.6l3.6 4.2M497.3 394.0L526.7 381.4M523.0 382.9l4.4 3.3M497.4 405.2L526.6 392.1M522.9 393.7l4.5 3.2M497.4 416.1L526.6 403.1M523.0 404.7l4.4 3.2M555.7 102.4L587.7 102.4M583.7 102.4l2.8 4.8M581.6 100.8L561.8 125.9M586.7 118.6L556.8 130.1M560.5 128.7l-4.3 -3.4M583.8 124.8L559.6 145.8M562.7 143.2l-5.2 -1.8M586.9 141.2L556.6 151.4M556.6 151.4l-8.2 -7.3M586.4 150.9L557.1 163.7M557.1 163.7l-8.9 -6.5M584.1 158.1L559.4 178.4M559.4 178.4l-10.3 -3.9M585.8 171.6L557.7 186.8M557.7 186.8l-9.4 -5.7M561.2 184.9l-4.7 -2.9M584.4 180.4L559.1 199.9M559.1 199.9l-10.2 -4.2M562.2 197.5l-10.2 -4.2M565.4 195.1l-5.1 -2.1M577.5 186.2L565.9 216.0M565.9 216.0l-10.9 1.7M567.4 212.3l-10.9 1.7M564.7 197.7L578.7 226.5M578.7 226.5l-6.2 9.1M563.2 209.6L580.3 236.6M580.3 236.6l-5.1 9.7M576.1 218.7L567.4 249.5M567.4 249.5l-10.7 2.7M568.5 245.6l-10.7 2.7M576.4 229.7L567.1 260.3M567.1 260.3l-10.7 2.5M568.2 256.5l-10.7 2.5M559.7 245.5L583.8 266.5M583.8 266.5l-2.1 10.8M558.9 257.4L584.6 276.5M584.6 276.5l-1.3 10.9M559.3 267.9L584.2 288.0M584.2 288.0l-1.7 10.9M569.5 273.1L574.0 304.8M573.4 300.8l-4.3 3.4M556.0 297.1L587.5 302.7M583.5 302.0l1.9 5.2M556.2 307.1L587.3 314.6M583.4 313.7l1.6 5.3M556.6 316.6L586.9 327.0M583.1 325.7l1.1 5.4M556.0 330.1L587.5 335.5M583.6 334.8l1.9 5.2M556.2 339.8L587.2 347.8M556.3 350.5L587.2 358.9M556.3 361.5L587.2 369.9M556.2 372.7L587.2 380.7M556.1 384.3L587.4 391.0M556.0 396.0L587.5 401.3M555.9 407.1L587.5 412.1M646.0 95.8L616.9 109.0M647.5 113.6L615.5 113.1M619.5 113.2l-2.7 -4.8M647.2 121.4L615.7 127.3M619.7 126.6l-3.6 -4.2M646.9 131.1L616.0 139.5M619.9 138.5l-3.9 -3.9M646.9 141.9L616.1 150.7M616.1 150.7l-7.9 -7.7M646.9 153.0L616.0 161.5M616.0 161.5l-7.8 -7.7M645.0 159.7L617.9 176.7M617.9 176.7l-9.7 -5.2M641.9 167.1L621.0 191.3M621.0 191.3l-10.8 -2.1M623.6 188.3l-5.4 -1.0M643.6 179.7L619.4 200.6M619.4 200.6l-10.4 -3.6M622.4 198.0l-10.4 -3.6M633.1 185.2L629.8 217.1M629.8 217.1l-10.0 4.5M621.6 199.5L641.4 224.7M641.4 224.7l-4.1 10.2M638.9 221.5l-2.0 5.1M617.8 214.8L645.2 231.3M645.2 231.3l-0.2 11.0M616.5 228.3L646.4 239.8M646.4 239.8l1.7 10.9M642.7 238.4l0.9 5.4M628.6 229.3L634.3 260.8M624.3 241.7L638.6 270.3M638.6 270.3l-6.1 9.2M633.1 251.1L629.9 282.9M629.9 282.9l-10.0 4.5M646.8 273.4L616.1 282.5M620.0 281.4l-4.0 -3.8M615.5 287.3L647.4 290.5M621.9 287.1L641.1 312.7M616.3 305.7L646.6 316.0M616.7 315.7L646.2 328.0M642.9 321.6L620.0 344.0M622.9 341.2l-5.3 -1.5M616.8 337.3L646.1 350.3M632.5 338.8L630.4 370.7M621.1 377.9L641.8 353.5M639.2 356.6l5.4 1.0M619.3 387.0L643.7 366.3M640.6 368.9l5.2 1.9M618.4 396.9L644.5 378.4M641.3 380.7l5.0 2.3M617.8 406.9L645.1 390.3M641.7 392.4l4.8 2.6M617.2 416.9L645.7 402.3M642.2 404.2l4.6 3.0M706.8 99.0L675.6 105.8M675.4 110.7L707.0 116.0M706.9 121.2L675.5 127.5M679.4 126.7l-3.6 -4.1M706.7 131.4L675.7 139.2M679.6 138.3l-3.8 -3.9M706.8 142.7L675.6 149.9M679.5 149.0l-3.7 -4.0M706.2 151.7L676.2 162.8M676.2 162.8l-8.5 -7.0M703.9 158.5L678.5 178.0M678.5 178.0l-10.2 -4.2M694.7 163.6L687.7 194.8M687.7 194.8l-10.5 3.3M695.6 174.8L686.8 205.6M686.8 205.6l-10.7 2.7M685.3 186.3L697.1 216.0M697.1 216.0l-6.8 8.6M679.3 201.4L703.1 222.8M703.1 222.8l-2.3 10.8M677.3 215.2L705.1 230.9M705.1 230.9l0.1 11.0M677.4 225.9L705.0 242.2M705.0 242.2l-0.1 11.0M693.1 229.1L689.3 260.9M689.3 260.9l-10.1 4.3M682.6 242.5L699.8 269.5M699.8 269.5l-5.1 9.8M705.7 260.3L676.7 273.7M676.7 273.7l-9.0 -6.3M707.1 276.5L675.3 279.4M679.2 279.0l-3.2 -4.5M707.1 291.1L675.3 286.8M679.3 287.3l-2.1 -5.1M707.2 300.2L675.2 299.6M679.8 299.7L702.6 322.1M699.8 319.3l-1.4 5.3M676.2 316.2L706.2 327.5M702.4 326.1l0.9 5.4M676.3 327.0L706.1 338.6M702.4 337.2l0.8 5.4M675.2 343.2L707.2 344.3M675.3 356.9L707.1 352.6M675.3 367.1L707.1 364.3M675.2 377.2L707.2 376.1M703.2 376.3l2.9 4.7M675.2 387.8L707.2 387.5M703.2 387.5l2.8 4.7M675.2 398.6L707.2 398.6M703.2 398.6l2.8 4.8M675.2 409.6L707.2 409.6M703.2 409.6l2.8 4.8M766.9 102.4L734.9 102.4M765.6 106.9L736.3 119.9M740.0 118.3l-4.4 -3.2M765.7 118.1L736.2 130.6M739.9 129.0l-4.4 -3.3M764.3 126.5L737.6 144.1M740.9 141.9l-4.9 -2.5M766.0 140.9L735.9 151.7M739.6 150.3l-4.2 -3.6M766.3 152.9L735.5 161.6M735.5 161.6l-7.9 -7.7M766.0 162.9L735.8 173.5M735.8 173.5l-8.3 -7.2M748.7 163.4L753.2 195.0M753.2 195.0l-8.7 6.8M749.5 174.2L752.3 206.1M752.3 206.1l-9.0 6.3M739.7 189.8L762.2 212.5M762.2 212.5l-2.9 10.6M736.4 205.4L765.5 218.8M765.5 218.8l1.0 11.0M736.0 217.4L765.9 228.7M765.9 228.7l1.8 10.9M736.1 228.0L765.7 240.1M765.7 240.1l1.5 10.9M747.8 229.3L754.1 260.7M754.1 260.7l-8.3 7.3M762.6 245.1L739.2 266.9M739.2 266.9l-10.5 -3.2M766.2 262.2L735.7 271.7M735.7 271.7l-8.1 -7.5M766.9 277.4L734.9 278.5M738.9 278.4l-2.9 -4.7M735.5 284.6L766.4 293.2M735.8 294.8L766.1 305.0M737.5 313.1L764.4 330.5M735.0 331.0L766.8 334.6M735.0 343.0L766.9 344.6M735.3 351.2L766.5 358.3M736.0 360.1L765.9 371.4M762.2 370.0l0.9 5.4M737.7 367.6L764.1 385.7M760.8 383.5l-0.4 5.5M745.4 372.7L756.5 402.7M755.1 398.9l-3.5 4.2M749.3 382.7L752.6 414.5M752.2 410.6l-4.4 3.2M742.0 396.3L759.9 422.9M826.7 102.4L794.7 102.4M826.2 109.6L795.1 117.2M799.0 116.2l-3.8 -4.0M826.3 121.1L795.0 127.6M798.9 126.8l-3.7 -4.1M825.7 129.9L795.6 140.7M795.6 140.7l-8.4 -7.1M823.9 137.3L797.4 155.3M800.7 153.0l-4.9 -2.4M826.4 154.3L794.9 160.2M798.9 159.5l-3.6 -4.2M826.3 164.6L795.1 171.8M795.1 171.8l-7.5 -8.0M825.1 172.2L796.3 186.2M796.3 186.2l-9.1 -6.2M803.3 176.0L818.0 204.4M818.0 204.4l-5.9 9.3M798.1 191.2L823.2 211.0M823.2 211.0l-1.6 10.9M796.7 204.3L824.6 219.9M824.6 219.9l0.2 11.0M795.4 218.4L826.0 227.8M826.0 227.8l2.5 10.7M822.1 226.6l1.2 5.4M795.7 228.5L825.7 239.6M825.7 239.6l1.9 10.8M821.9 238.2l0.9 5.4M802.4 231.3L819.0 258.7M819.0 258.7l-5.3 9.6M821.6 244.3L799.8 267.7M799.8 267.7l-10.7 -2.5M824.7 259.3L796.6 274.6M800.1 272.7l-4.7 -2.9M826.5 275.5L794.9 280.4M798.8 279.8l-3.4 -4.3M826.7 288.3L794.7 289.6M826.7 300.4L794.7 299.3M798.7 299.5l-2.6 -4.9M826.7 310.5L794.7 311.2M798.7 311.2l-2.9 -4.7M826.4 318.9L794.9 324.7M796.7 325.0L824.7 340.6M797.0 335.5L824.4 352.0M797.1 346.2L824.2 363.3M820.8 361.1l-0.2 5.5M796.4 358.4L824.9 373.1M821.3 371.2l0.3 5.5M795.4 372.0L826.0 381.4M822.1 380.2l1.2 5.4M795.1 383.9L826.2 391.4M822.3 390.5l1.6 5.3M794.9 395.7L826.4 401.5M822.5 400.8l1.8 5.2M794.9 406.8L826.4 412.4M822.5 411.7l1.9 5.2M886.4 102.4L854.4 102.4M886.3 112.1L854.5 114.7M858.4 114.3l-3.1 -4.5M886.4 123.5L854.4 125.2M858.4 125.0l-3.0 -4.6M886.3 133.6L854.5 137.1M858.5 136.6l-3.3 -4.4M886.3 144.2L854.5 148.3M858.5 147.8l-3.3 -4.4M886.1 154.0L854.7 160.5M858.6 159.7l-3.7 -4.1M885.8 163.8L855.0 172.6M855.0 172.6l-7.9 -7.7M884.1 171.0L856.7 187.4M856.7 187.4l-9.6 -5.3M881.7 178.9L859.1 201.5M859.1 201.5l-10.6 -2.8M878.4 187.3L862.4 215.0M873.2 196.4L867.6 227.9M867.6 227.9l-10.3 3.8M871.8 207.1L869.0 239.0M871.8 218.1L869.0 250.0M869.0 250.0l-10.0 4.6M883.2 235.4L857.6 254.7M857.6 254.7l-10.1 -4.3M883.6 247.0L857.2 265.0M860.5 262.8l-5.0 -2.4M876.3 252.1L864.5 281.8M864.5 281.8l-10.9 1.6M886.2 275.4L854.6 280.4M858.5 279.8l-3.5 -4.3M886.2 286.1L854.6 291.7M858.6 291.0l-3.5 -4.2M886.4 298.8L854.4 301.0M858.4 300.7l-3.1 -4.6M886.4 310.6L854.4 311.1M858.4 311.1l-2.8 -4.7M886.4 321.8L854.4 321.8M858.4 321.8l-2.8 -4.8M886.1 329.5L854.7 336.1M882.7 354.1L858.1 333.5M884.6 362.2L856.2 347.3M884.8 372.7L856.0 358.7M885.3 382.4L855.5 371.0M885.6 392.6L855.2 382.7M885.6 403.6L855.2 393.7M885.9 413.5L854.9 405.7"/><circle cx="273.1" cy="113.4" r="4.6"/><circle cx="750.9" cy="310.9" r="4.6"/>
</g>
<g stroke="#000" stroke-width="1.0">
<path d="M153.60 409.60h24 M870.40 409.60h-24"/>
<path d="M153.60 398.63h12 M870.40 398.63h-12"/>
<path d="M153.60 387.66h12 M870.40 387.66h-12"/>
<path d="M153.60 376.69h12 M870.40 376.69h-12"/>
<path d="M153.60 365.71h24 M870.40 365.71h-24"/>
<path d="M153.60 354.74h12 M870.40 354.74h-12"/>
<path d="M153.60 343.77h12 M870.40 343.77h-12"/>
<path d="M153.60 332.80h12 M870.40 332.80h-12"/>
<path d="M153.60 321.83h24 M870.40 321.83h-24"/>
<path d="M153.60 310.86h12 M870.40 310.86h-12"/>
<path d="M153.60 299.89h12 M870.40 299.89h-12"/>
<path d="M153.60 288.91h12 M870.40 288.91h-12"/>
<path d="M153.60 277.94h24 M870.40 277.94h-24"/>
<path d="M153.60 266.97h12 M870.40 266.97h-12"/>
<path d="M153.60 256.00h12 M870.40 256.00h-12"/>
<path d="M153.60 245.03h12 M870.40 245.03h-12"/>
<path d="M153.60 234.06h24 M870.40 234.06h-24"/>
<path d="M153.60 223.09h12 M870.40 223.09h-12"/>
<path d="M153.60 212.11h12 M870.40 212.11h-12"/>
<path d="M153.60 201.14h12 M870.40 201.14h-12"/>
<path d="M153.60 190.17h24 M870.40 190.17h-24"/>
<path d="M153.60 179.20h12 M870.40 179.20h-12"/>
<path d="M153.60 168.23h12 M870.40 168.23h-12"/>
<path d="M153.60 157.26h12 M870.40 157.26h-12"/>
<path d="M153.60 146.29h24 M870.40 146.29h-24"/>
<path d="M153.60 135.31h12 M870.40 135.31h-12"/>
<path d="M153.60 124.34h12 M870.40 124.34h-12"/>
<path d="M153.60 113.37h12 M870.40 113.37h-12"/>
<path d="M153.60 102.40h24 M870.40 102.40h-24"/>
<path d="M153.60 102.40v10 M153.60 409.60v-10"/>
<path d="M213.33 102.40v10 M213.33 409.60v-10"/>
<path d="M273.07 102.40v10 M273.07 409.60v-10"/>
<path d="M332.80 102.40v10 M332.80 409.60v-10"/>
<path d="M392.53 102.40v10 M392.53 409.60v-10"/>
<path d="M452.27 102.40v10 M452.27 409.60v-10"/>
<path d="M512.00 102.40v10 M512.00 409.60v-10"/>
<path d="M571.73 102.40v10 M571.73 409.60v-10"/>
<path d="M631.47 102.40v10 M631.47 409.60v-10"/>
<path d="M691.20 102.40v10 M691.20 409.60v-10"/>
<path d="M750.93 102.40v10 M750.93 409.60v-10"/>
<path d="M810.67 102.40v10 M810.67 409.60v-10"/>
<path d="M870.40 102.40v10 M870.40 409.60v-10"/>
</g>
<rect x="153.60" y="102.40" width="716.80" height="307.20" fill="none" stroke="#000" stroke-width="1.0"/>
<text x="143.80" y="414.40" font-size="14.10" text-anchor="end" >0</text>
<text x="143.80" y="370.51" font-size="14.10" text-anchor="end" >4</text>
<text x="143.80" y="326.63" font-size="14.10" text-anchor="end" >8</text>
<text x="143.80" y="282.74" font-size="14.10" text-anchor="end" >12</text>
<text x="143.80" y="238.86" font-size="14.10" text-anchor="end" >16</text>
<text x="143.80" y="194.97" font-size="14.10" text-anchor="end" >20</text>
<text x="143.80" y="151.09" font-size="14.10" text-anchor="end" >24</text>
<text x="143.80" y="107.20" font-size="14.10" text-anchor="end" >28</text>
<text x="153.10" y="433.90" font-size="12.80" text-anchor="middle" transform="rotate(-45 153.10 433.90)" dominant-baseline="central">29_12</text>
<text x="212.83" y="433.90" font-size="12.80" text-anchor="middle" transform="rotate(-45 212.83 433.90)" dominant-baseline="central">29_15</text>
<text x="272.57" y="433.90" font-size="12.80" text-anchor="middle" transform="rotate(-45 272.57 433.90)" dominant-baseline="central">29_18</text>
<text x="332.30" y="433.90" font-size="12.80" text-anchor="middle" transform="rotate(-45 332.30 433.90)" dominant-baseline="central">29_21</text>
<text x="392.03" y="433.90" font-size="12.80" text-anchor="middle" transform="rotate(-45 392.03 433.90)" dominant-baseline="central">30_00</text>
<text x="451.77" y="433.90" font-size="12.80" text-anchor="middle" transform="rotate(-45 451.77 433.90)" dominant-baseline="central">30_03</text>
<text x="511.50" y="433.90" font-size="12.80" text-anchor="middle" transform="rotate(-45 511.50 433.90)" dominant-baseline="central">30_06</text>
<text x="571.23" y="433.90" font-size="12.80" text-anchor="middle" transform="rotate(-45 571.23 433.90)" dominant-baseline="central">30_09</text>
<text x="630.97" y="433.90" font-size="12.80" text-anchor="middle" transform="rotate(-45 630.97 433.90)" dominant-baseline="central">30_12</text>
<text x="690.70" y="433.90" font-size="12.80" text-anchor="middle" transform="rotate(-45 690.70 433.90)" dominant-baseline="central">30_15</text>
<text x="750.43" y="433.90" font-size="12.80" text-anchor="middle" transform="rotate(-45 750.43 433.90)" dominant-baseline="central">30_18</text>
<text x="810.17" y="433.90" font-size="12.80" text-anchor="middle" transform="rotate(-45 810.17 433.90)" dominant-baseline="central">30_21</text>
<text x="869.90" y="433.90" font-size="12.80" text-anchor="middle" transform="rotate(-45 869.90 433.90)" dominant-baseline="central">31_00</text>
<rect x="891.30" y="395.93" width="19.60" height="2.79" fill="#8820ee"/>
<rect x="891.30" y="392.98" width="19.60" height="2.79" fill="#7a1cf0"/>
<rect x="891.30" y="390.03" width="19.60" height="2.79" fill="#6c18f2"/>
<rect x="891.30" y="387.09" width="19.60" height="2.79" fill="#5e14f3"/>
<rect x="891.30" y="384.14" width="19.60" height="2.79" fill="#5010f5"/>
<rect x="891.30" y="381.19" width="19.60" height="2.79" fill="#3e0cf7"/>
<rect x="891.30" y="378.24" width="19.60" height="2.79" fill="#2c09f9"/>
<rect x="891.30" y="375.29" width="19.60" height="2.79" fill="#1b05fc"/>
<rect x="891.30" y="372.34" width="19.60" height="2.79" fill="#0902fe"/>
<rect x="891.30" y="369.40" width="19.60" height="2.79" fill="#0508fc"/>
<rect x="891.30" y="366.45" width="19.60" height="2.79" fill="#0f19f8"/>
<rect x="891.30" y="363.50" width="19.60" height="2.79" fill="#192af2"/>
<rect x="891.30" y="360.55" width="19.60" height="2.79" fill="#1f37f0"/>
<rect x="891.30" y="357.60" width="19.60" height="2.79" fill="#2241ef"/>
<rect x="891.30" y="354.65" width="19.60" height="2.79" fill="#254bee"/>
<rect x="891.30" y="351.70" width="19.60" height="2.79" fill="#2855ee"/>
<rect x="891.30" y="348.76" width="19.60" height="2.79" fill="#2b5fed"/>
<rect x="891.30" y="345.81" width="19.60" height="2.79" fill="#2e69ec"/>
<rect x="891.30" y="342.86" width="19.60" height="2.79" fill="#3173eb"/>
<rect x="891.30" y="339.91" width="19.60" height="2.79" fill="#3079ec"/>
<rect x="891.30" y="336.96" width="19.60" height="2.79" fill="#2c7cef"/>
<rect x="891.30" y="334.01" width="19.60" height="2.79" fill="#277ff2"/>
<rect x="891.30" y="331.07" width="19.60" height="2.79" fill="#2382f5"/>
<rect x="891.30" y="328.12" width="19.60" height="2.79" fill="#1f85f8"/>
<rect x="891.30" y="325.17" width="19.60" height="2.79" fill="#1a88fb"/>
<rect x="891.30" y="322.22" width="19.60" height="2.79" fill="#168bfe"/>
<rect x="891.30" y="319.27" width="19.60" height="2.79" fill="#1390ff"/>
<rect x="891.30" y="316.32" width="19.60" height="2.79" fill="#1097ff"/>
<rect x="891.30" y="313.37" width="19.60" height="2.79" fill="#0d9eff"/>
<rect x="891.30" y="310.43" width="19.60" height="2.79" fill="#0aa5ff"/>
<rect x="891.30" y="307.48" width="19.60" height="2.79" fill="#07acff"/>
<rect x="891.30" y="304.53" width="19.60" height="2.79" fill="#04b3ff"/>
<rect x="891.30" y="301.58" width="19.60" height="2.79" fill="#01baff"/>
<rect x="891.30" y="298.63" width="19.60" height="2.79" fill="#09bffe"/>
<rect x="891.30" y="295.68" width="19.60" height="2.79" fill="#1ac0fc"/>
<rect x="891.30" y="292.74" width="19.60" height="2.79" fill="#2bc2fa"/>
<rect x="891.30" y="289.79" width="19.60" height="2.79" fill="#3cc3f8"/>
<rect x="891.30" y="286.84" width="19.60" height="2.79" fill="#4dc4f5"/>
<rect x="891.30" y="283.89" width="19.60" height="2.79" fill="#5ec6f3"/>
<rect x="891.30" y="280.94" width="19.60" height="2.79" fill="#6fc7f1"/>
<rect x="891.30" y="277.99" width="19.60" height="2.79" fill="#7ecaf0"/>
<rect x="891.30" y="275.04" width="19.60" height="2.79" fill="#8acff1"/>
<rect x="891.30" y="272.10" width="19.60" height="2.79" fill="#96d3f2"/>
<rect x="891.30" y="269.15" width="19.60" height="2.79" fill="#a2d8f2"/>
<rect x="891.30" y="266.20" width="19.60" height="2.79" fill="#afddf3"/>
<rect x="891.30" y="263.25" width="19.60" height="2.79" fill="#bbe1f4"/>
<rect x="891.30" y="260.30" width="19.60" height="2.79" fill="#c7e6f5"/>
<rect x="891.30" y="257.35" width="19.60" height="2.79" fill="#d0eaf6"/>
<rect x="891.30" y="254.41" width="19.60" height="2.79" fill="#ffffc8"/>
<rect x="891.30" y="251.46" width="19.60" height="2.79" fill="#fffbaf"/>
<rect x="891.30" y="248.51" width="19.60" height="2.79" fill="#fff895"/>
<rect x="891.30" y="245.56" width="19.60" height="2.79" fill="#fff47c"/>
<rect x="891.30" y="242.61" width="19.60" height="2.79" fill="#fff062"/>
<rect x="891.30" y="239.66" width="19.60" height="2.79" fill="#ffed49"/>
<rect x="891.30" y="236.72" width="19.60" height="2.79" fill="#ffe839"/>
<rect x="891.30" y="233.77" width="19.60" height="2.79" fill="#ffe033"/>
<rect x="891.30" y="230.82" width="19.60" height="2.79" fill="#ffda2c"/>
<rect x="891.30" y="227.87" width="19.60" height="2.79" fill="#ffd226"/>
<rect x="891.30" y="224.92" width="19.60" height="2.79" fill="#ffcc20"/>
<rect x="891.30" y="221.97" width="19.60" height="2.79" fill="#ffc419"/>
<rect x="891.30" y="219.02" width="19.60" height="2.79" fill="#ffbe13"/>
<rect x="891.30" y="216.08" width="19.60" height="2.79" fill="#ffb60f"/>
<rect x="891.30" y="213.13" width="19.60" height="2.79" fill="#ffae0d"/>
<rect x="891.30" y="210.18" width="19.60" height="2.79" fill="#ffa60a"/>
<rect x="891.30" y="207.23" width="19.60" height="2.79" fill="#ff9e08"/>
<rect x="891.30" y="204.28" width="19.60" height="2.79" fill="#ff9606"/>
<rect x="891.30" y="201.33" width="19.60" height="2.79" fill="#ff8e03"/>
<rect x="891.30" y="198.39" width="19.60" height="2.79" fill="#ff8601"/>
<rect x="891.30" y="195.44" width="19.60" height="2.79" fill="#ff7e00"/>
<rect x="891.30" y="192.49" width="19.60" height="2.79" fill="#ff7500"/>
<rect x="891.30" y="189.54" width="19.60" height="2.79" fill="#ff6d00"/>
<rect x="891.30" y="186.59" width="19.60" height="2.79" fill="#ff6400"/>
<rect x="891.30" y="183.64" width="19.60" height="2.79" fill="#ff5b00"/>
<rect x="891.30" y="180.69" width="19.60" height="2.79" fill="#ff5300"/>
<rect x="891.30" y="177.75" width="19.60" height="2.79" fill="#ff4a00"/>
<rect x="891.30" y="174.80" width="19.60" height="2.79" fill="#ff3f00"/>
<rect x="891.30" y="171.85" width="19.60" height="2.79" fill="#ff3100"/>
<rect x="891.30" y="168.90" width="19.60" height="2.79" fill="#ff2300"/>
<rect x="891.30" y="165.95" width="19.60" height="2.79" fill="#ff1500"/>
<rect x="891.30" y="163.00" width="19.60" height="2.79" fill="#ff0700"/>
<rect x="891.30" y="160.06" width="19.60" height="2.79" fill="#fb0000"/>
<rect x="891.30" y="157.11" width="19.60" height="2.79" fill="#f40000"/>
<rect x="891.30" y="154.16" width="19.60" height="2.79" fill="#ec0000"/>
<rect x="891.30" y="151.21" width="19.60" height="2.79" fill="#e50000"/>
<rect x="891.30" y="148.26" width="19.60" height="2.79" fill="#dd0000"/>
<rect x="891.30" y="145.31" width="19.60" height="2.79" fill="#d60000"/>
<rect x="891.30" y="142.36" width="19.60" height="2.79" fill="#ce0000"/>
<rect x="891.30" y="139.42" width="19.60" height="2.79" fill="#c70000"/>
<rect x="891.30" y="136.47" width="19.60" height="2.79" fill="#c60808"/>
<rect x="891.30" y="133.52" width="19.60" height="2.79" fill="#cc1818"/>
<rect x="891.30" y="130.57" width="19.60" height="2.79" fill="#d22828"/>
<rect x="891.30" y="127.62" width="19.60" height="2.79" fill="#d83838"/>
<rect x="891.30" y="124.67" width="19.60" height="2.79" fill="#de4848"/>
<rect x="891.30" y="121.73" width="19.60" height="2.79" fill="#e55e5e"/>
<rect x="891.30" y="118.78" width="19.60" height="2.79" fill="#ee7b7b"/>
<rect x="891.30" y="115.83" width="19.60" height="2.79" fill="#f69797"/>
<rect x="891.30" y="112.88" width="19.60" height="2.79" fill="#ffb4b4"/>
<text x="929.60" y="121.75" font-size="16.70" text-anchor="start" >35</text>
<text x="929.60" y="142.39" font-size="16.70" text-anchor="start" >28</text>
<text x="929.60" y="163.03" font-size="16.70" text-anchor="start" >21</text>
<text x="929.60" y="183.67" font-size="16.70" text-anchor="start" >14</text>
<text x="929.60" y="204.31" font-size="16.70" text-anchor="start" >7</text>
<text x="929.60" y="224.94" font-size="16.70" text-anchor="start" >0</text>
<text x="929.60" y="245.58" font-size="16.70" text-anchor="start" >-7</text>
<text x="929.60" y="266.22" font-size="16.70" text-anchor="start" >-14</text>
<text x="929.60" y="286.86" font-size="16.70" text-anchor="start" >-21</text>
<text x="929.60" y="307.50" font-size="16.70" text-anchor="start" >-28</text>
<text x="929.60" y="328.14" font-size="16.70" text-anchor="start" >-35</text>
<text x="929.60" y="348.78" font-size="16.70" text-anchor="start" >-42</text>
<text x="929.60" y="369.42" font-size="16.70" text-anchor="start" >-49</text>
<text x="929.60" y="390.06" font-size="16.70" text-anchor="start" >-56</text>
<g stroke="#1a1a1a" stroke-width="0.8" stroke-dasharray="3.3 6.2" fill="none">
<path d="M153.60 542.72H870.40"/>
<path d="M153.60 522.24H870.40"/>
<path d="M153.60 501.76H870.40"/>
<path d="M153.60 481.28H870.40"/>
<path d="M204.80 563.20V460.80"/>
<path d="M256.00 563.20V460.80"/>
<path d="M307.20 563.20V460.80"/>
<path d="M358.40 563.20V460.80"/>
<path d="M409.60 563.20V460.80"/>
<path d="M460.80 563.20V460.80"/>
<path d="M512.00 563.20V460.80"/>
<path d="M563.20 563.20V460.80"/>
<path d="M614.40 563.20V460.80"/>
<path d="M665.60 563.20V460.80"/>
<path d="M716.80 563.20V460.80"/>
<path d="M768.00 563.20V460.80"/>
<path d="M819.20 563.20V460.80"/>
</g>
<polyline points="204.80,489.30 256.00,477.10 307.20,500.70 358.40,523.30 409.60,525.10 460.80,516.20 512.00,531.70 563.20,551.75 614.40,550.50 665.60,522.30 716.80,516.50 768.00,515.20 819.20,501.70" fill="none" stroke="#0000ff" stroke-width="0.95"/>
<g stroke="#000" stroke-width="1.0">
<path d="M153.60 563.20h-14.2 M870.40 563.20h14.2"/>
<path d="M153.60 542.72h-14.2 M870.40 542.72h14.2"/>
<path d="M153.60 522.24h-14.2 M870.40 522.24h14.2"/>
<path d="M153.60 501.76h-14.2 M870.40 501.76h14.2"/>
<path d="M153.60 481.28h-14.2 M870.40 481.28h14.2"/>
<path d="M153.60 460.80h-14.2 M870.40 460.80h14.2"/>
<path d="M204.80 563.20v14.0"/>
<path d="M256.00 563.20v14.0"/>
<path d="M307.20 563.20v14.0"/>
<path d="M358.40 563.20v14.0"/>
<path d="M409.60 563.20v14.0"/>
<path d="M460.80 563.20v14.0"/>
<path d="M512.00 563.20v14.0"/>
<path d="M563.20 563.20v14.0"/>
<path d="M614.40 563.20v14.0"/>
<path d="M665.60 563.20v14.0"/>
<path d="M716.80 563.20v14.0"/>
<path d="M768.00 563.20v14.0"/>
<path d="M819.20 563.20v14.0"/>
</g>
<g stroke="#000" stroke-width="0.5">
<path d="M153.60 559.10h-7.3 M870.40 559.10h7.3"/>
<path d="M153.60 555.01h-7.3 M870.40 555.01h7.3"/>
<path d="M153.60 550.91h-7.3 M870.40 550.91h7.3"/>
<path d="M153.60 546.82h-7.3 M870.40 546.82h7.3"/>
<path d="M153.60 538.62h-7.3 M870.40 538.62h7.3"/>
<path d="M153.60 534.53h-7.3 M870.40 534.53h7.3"/>
<path d="M153.60 530.43h-7.3 M870.40 530.43h7.3"/>
<path d="M153.60 526.34h-7.3 M870.40 526.34h7.3"/>
<path d="M153.60 518.14h-7.3 M870.40 518.14h7.3"/>
<path d="M153.60 514.05h-7.3 M870.40 514.05h7.3"/>
<path d="M153.60 509.95h-7.3 M870.40 509.95h7.3"/>
<path d="M153.60 505.86h-7.3 M870.40 505.86h7.3"/>
<path d="M153.60 497.66h-7.3 M870.40 497.66h7.3"/>
<path d="M153.60 493.57h-7.3 M870.40 493.57h7.3"/>
<path d="M153.60 489.47h-7.3 M870.40 489.47h7.3"/>
<path d="M153.60 485.38h-7.3 M870.40 485.38h7.3"/>
<path d="M153.60 477.18h-7.3 M870.40 477.18h7.3"/>
<path d="M153.60 473.09h-7.3 M870.40 473.09h7.3"/>
<path d="M153.60 468.99h-7.3 M870.40 468.99h7.3"/>
<path d="M153.60 464.90h-7.3 M870.40 464.90h7.3"/>
</g>
<rect x="153.60" y="460.80" width="716.80" height="102.40" fill="none" stroke="#000" stroke-width="1.0"/>
<text x="134.20" y="566.25" font-size="8.90" text-anchor="end" >1006.0</text>
<text x="134.20" y="545.77" font-size="8.90" text-anchor="end" >1007.0</text>
<text x="134.20" y="525.29" font-size="8.90" text-anchor="end" >1008.0</text>
<text x="134.20" y="504.81" font-size="8.90" text-anchor="end" >1009.0</text>
<text x="134.20" y="484.33" font-size="8.90" text-anchor="end" >1010.0</text>
<text x="134.20" y="463.85" font-size="8.90" text-anchor="end" >1011.0</text>
<text x="208.50" y="588.70" font-size="12.80" text-anchor="middle" transform="rotate(-45 208.50 588.70)" dominant-baseline="central">29_12</text>
<text x="259.70" y="588.70" font-size="12.80" text-anchor="middle" transform="rotate(-45 259.70 588.70)" dominant-baseline="central">29_15</text>
<text x="310.90" y="588.70" font-size="12.80" text-anchor="middle" transform="rotate(-45 310.90 588.70)" dominant-baseline="central">29_18</text>
<text x="362.10" y="588.70" font-size="12.80" text-anchor="middle" transform="rotate(-45 362.10 588.70)" dominant-baseline="central">29_21</text>
<text x="413.30" y="588.70" font-size="12.80" text-anchor="middle" transform="rotate(-45 413.30 588.70)" dominant-baseline="central">30_00</text>
<text x="464.50" y="588.70" font-size="12.80" text-anchor="middle" transform="rotate(-45 464.50 588.70)" dominant-baseline="central">30_03</text>
<text x="515.70" y="588.70" font-size="12.80" text-anchor="middle" transform="rotate(-45 515.70 588.70)" dominant-baseline="central">30_06</text>
<text x="566.90" y="588.70" font-size="12.80" text-anchor="middle" transform="rotate(-45 566.90 588.70)" dominant-baseline="central">30_09</text>
<text x="618.10" y="588.70" font-size="12.80" text-anchor="middle" transform="rotate(-45 618.10 588.70)" dominant-baseline="central">30_12</text>
<text x="669.30" y="588.70" font-size="12.80" text-anchor="middle" transform="rotate(-45 669.30 588.70)" dominant-baseline="central">30_15</text>
<text x="720.50" y="588.70" font-size="12.80" text-anchor="middle" transform="rotate(-45 720.50 588.70)" dominant-baseline="central">30_18</text>
<text x="771.70" y="588.70" font-size="12.80" text-anchor="middle" transform="rotate(-45 771.70 588.70)" dominant-baseline="central">30_21</text>
<text x="822.90" y="588.70" font-size="12.80" text-anchor="middle" transform="rotate(-45 822.90 588.70)" dominant-baseline="central">31_00</text>
<text x="91.70" y="512.00" font-size="24.40" text-anchor="middle" transform="rotate(-90 91.70 512.00)" textLength="64.5" lengthAdjust="spacingAndGlyphs">PMSL</text>
<g stroke="#1a1a1a" stroke-width="0.8" stroke-dasharray="3.3 6.2" fill="none">
<path d="M153.60 699.73H870.40"/>
<path d="M153.60 682.67H870.40"/>
<path d="M153.60 665.60H870.40"/>
<path d="M153.60 648.53H870.40"/>
<path d="M153.60 631.47H870.40"/>
<path d="M204.80 716.80V614.40"/>
<path d="M256.00 716.80V614.40"/>
<path d="M307.20 716.80V614.40"/>
<path d="M358.40 716.80V614.40"/>
<path d="M409.60 716.80V614.40"/>
<path d="M460.80 716.80V614.40"/>
<path d="M512.00 716.80V614.40"/>
<path d="M563.20 716.80V614.40"/>
<path d="M614.40 716.80V614.40"/>
<path d="M665.60 716.80V614.40"/>
<path d="M716.80 716.80V614.40"/>
<path d="M768.00 716.80V614.40"/>
<path d="M819.20 716.80V614.40"/>
</g>
<polyline points="204.80,644.60 256.00,663.90 307.20,678.60 358.40,690.50 409.60,701.20 460.80,688.20 512.00,639.50 563.20,617.40 614.40,616.10 665.60,647.90 716.80,663.40 768.00,674.80 819.20,673.50" fill="none" stroke="#ff0000" stroke-width="0.95"/>
<g stroke="#000" stroke-width="1.0">
<path d="M153.60 716.80h-14.2 M870.40 716.80h14.2"/>
<path d="M153.60 699.73h-14.2 M870.40 699.73h14.2"/>
<path d="M153.60 682.67h-14.2 M870.40 682.67h14.2"/>
<path d="M153.60 665.60h-14.2 M870.40 665.60h14.2"/>
<path d="M153.60 648.53h-14.2 M870.40 648.53h14.2"/>
<path d="M153.60 631.47h-14.2 M870.40 631.47h14.2"/>
<path d="M153.60 614.40h-14.2 M870.40 614.40h14.2"/>
<path d="M204.80 716.80v14.0"/>
<path d="M256.00 716.80v14.0"/>
<path d="M307.20 716.80v14.0"/>
<path d="M358.40 716.80v14.0"/>
<path d="M409.60 716.80v14.0"/>
<path d="M460.80 716.80v14.0"/>
<path d="M512.00 716.80v14.0"/>
<path d="M563.20 716.80v14.0"/>
<path d="M614.40 716.80v14.0"/>
<path d="M665.60 716.80v14.0"/>
<path d="M716.80 716.80v14.0"/>
<path d="M768.00 716.80v14.0"/>
<path d="M819.20 716.80v14.0"/>
</g>
<g stroke="#000" stroke-width="0.5">
<path d="M153.60 711.11h-7.3 M870.40 711.11h7.3"/>
<path d="M153.60 705.42h-7.3 M870.40 705.42h7.3"/>
<path d="M153.60 694.04h-7.3 M870.40 694.04h7.3"/>
<path d="M153.60 688.36h-7.3 M870.40 688.36h7.3"/>
<path d="M153.60 676.98h-7.3 M870.40 676.98h7.3"/>
<path d="M153.60 671.29h-7.3 M870.40 671.29h7.3"/>
<path d="M153.60 659.91h-7.3 M870.40 659.91h7.3"/>
<path d="M153.60 654.22h-7.3 M870.40 654.22h7.3"/>
<path d="M153.60 642.84h-7.3 M870.40 642.84h7.3"/>
<path d="M153.60 637.16h-7.3 M870.40 637.16h7.3"/>
<path d="M153.60 625.78h-7.3 M870.40 625.78h7.3"/>
<path d="M153.60 620.09h-7.3 M870.40 620.09h7.3"/>
</g>
<rect x="153.60" y="614.40" width="716.80" height="102.40" fill="none" stroke="#000" stroke-width="1.0"/>
<text x="134.20" y="719.85" font-size="8.90" text-anchor="end" >6</text>
<text x="134.20" y="702.78" font-size="8.90" text-anchor="end" >9</text>
<text x="134.20" y="685.72" font-size="8.90" text-anchor="end" >12</text>
<text x="134.20" y="668.65" font-size="8.90" text-anchor="end" >15</text>
<text x="134.20" y="651.58" font-size="8.90" text-anchor="end" >18</text>
<text x="134.20" y="634.52" font-size="8.90" text-anchor="end" >21</text>
<text x="134.20" y="617.45" font-size="8.90" text-anchor="end" >24</text>
<text x="208.50" y="742.30" font-size="12.80" text-anchor="middle" transform="rotate(-45 208.50 742.30)" dominant-baseline="central">29_12</text>
<text x="259.70" y="742.30" font-size="12.80" text-anchor="middle" transform="rotate(-45 259.70 742.30)" dominant-baseline="central">29_15</text>
<text x="310.90" y="742.30" font-size="12.80" text-anchor="middle" transform="rotate(-45 310.90 742.30)" dominant-baseline="central">29_18</text>
<text x="362.10" y="742.30" font-size="12.80" text-anchor="middle" transform="rotate(-45 362.10 742.30)" dominant-baseline="central">29_21</text>
<text x="413.30" y="742.30" font-size="12.80" text-anchor="middle" transform="rotate(-45 413.30 742.30)" dominant-baseline="central">30_00</text>
<text x="464.50" y="742.30" font-size="12.80" text-anchor="middle" transform="rotate(-45 464.50 742.30)" dominant-baseline="central">30_03</text>
<text x="515.70" y="742.30" font-size="12.80" text-anchor="middle" transform="rotate(-45 515.70 742.30)" dominant-baseline="central">30_06</text>
<text x="566.90" y="742.30" font-size="12.80" text-anchor="middle" transform="rotate(-45 566.90 742.30)" dominant-baseline="central">30_09</text>
<text x="618.10" y="742.30" font-size="12.80" text-anchor="middle" transform="rotate(-45 618.10 742.30)" dominant-baseline="central">30_12</text>
<text x="669.30" y="742.30" font-size="12.80" text-anchor="middle" transform="rotate(-45 669.30 742.30)" dominant-baseline="central">30_15</text>
<text x="720.50" y="742.30" font-size="12.80" text-anchor="middle" transform="rotate(-45 720.50 742.30)" dominant-baseline="central">30_18</text>
<text x="771.70" y="742.30" font-size="12.80" text-anchor="middle" transform="rotate(-45 771.70 742.30)" dominant-baseline="central">30_21</text>
<text x="822.90" y="742.30" font-size="12.80" text-anchor="middle" transform="rotate(-45 822.90 742.30)" dominant-baseline="central">31_00</text>
<text x="107.40" y="665.60" font-size="24.40" text-anchor="middle" transform="rotate(-90 107.40 665.60)" textLength="135.6" lengthAdjust="spacingAndGlyphs">TEMP at 2 M</text>
<g stroke="#1a1a1a" stroke-width="0.8" stroke-dasharray="3.3 6.2" fill="none">
<path d="M153.60 925.68H870.40"/>
<path d="M153.60 899.06H870.40"/>
<path d="M153.60 872.44H870.40"/>
<path d="M153.60 845.82H870.40"/>
<path d="M213.33 952.30V819.20"/>
<path d="M273.07 952.30V819.20"/>
<path d="M332.80 952.30V819.20"/>
<path d="M392.53 952.30V819.20"/>
<path d="M452.27 952.30V819.20"/>
<path d="M512.00 952.30V819.20"/>
<path d="M571.73 952.30V819.20"/>
<path d="M631.47 952.30V819.20"/>
<path d="M691.20 952.30V819.20"/>
<path d="M750.93 952.30V819.20"/>
<path d="M810.67 952.30V819.20"/>
</g>
<g stroke="#000" stroke-width="1.0">
<path d="M153.60 952.30h-14.2 M870.40 952.30h14.2"/>
<path d="M153.60 925.68h-14.2 M870.40 925.68h14.2"/>
<path d="M153.60 899.06h-14.2 M870.40 899.06h14.2"/>
<path d="M153.60 872.44h-14.2 M870.40 872.44h14.2"/>
<path d="M153.60 845.82h-14.2 M870.40 845.82h14.2"/>
<path d="M153.60 819.20h-14.2 M870.40 819.20h14.2"/>
<path d="M153.60 952.30v14.0"/>
<path d="M213.33 952.30v14.0"/>
<path d="M273.07 952.30v14.0"/>
<path d="M332.80 952.30v14.0"/>
<path d="M392.53 952.30v14.0"/>
<path d="M452.27 952.30v14.0"/>
<path d="M512.00 952.30v14.0"/>
<path d="M571.73 952.30v14.0"/>
<path d="M631.47 952.30v14.0"/>
<path d="M691.20 952.30v14.0"/>
<path d="M750.93 952.30v14.0"/>
<path d="M810.67 952.30v14.0"/>
<path d="M870.40 952.30v14.0"/>
</g>
<g stroke="#000" stroke-width="0.5">
<path d="M153.60 945.64h-7.3 M870.40 945.64h7.3"/>
<path d="M153.60 938.99h-7.3 M870.40 938.99h7.3"/>
<path d="M153.60 932.33h-7.3 M870.40 932.33h7.3"/>
<path d="M153.60 919.02h-7.3 M870.40 919.02h7.3"/>
<path d="M153.60 912.37h-7.3 M870.40 912.37h7.3"/>
<path d="M153.60 905.72h-7.3 M870.40 905.72h7.3"/>
<path d="M153.60 892.40h-7.3 M870.40 892.40h7.3"/>
<path d="M153.60 885.75h-7.3 M870.40 885.75h7.3"/>
<path d="M153.60 879.10h-7.3 M870.40 879.10h7.3"/>
<path d="M153.60 865.78h-7.3 M870.40 865.78h7.3"/>
<path d="M153.60 859.13h-7.3 M870.40 859.13h7.3"/>
<path d="M153.60 852.48h-7.3 M870.40 852.48h7.3"/>
<path d="M153.60 839.16h-7.3 M870.40 839.16h7.3"/>
<path d="M153.60 832.51h-7.3 M870.40 832.51h7.3"/>
<path d="M153.60 825.86h-7.3 M870.40 825.86h7.3"/>
</g>
<rect x="153.60" y="819.20" width="716.80" height="133.10" fill="none" stroke="#000" stroke-width="1.0"/>
<text x="133.00" y="955.35" font-size="8.90" text-anchor="end" >0.0</text>
<text x="133.00" y="928.73" font-size="8.90" text-anchor="end" >0.2</text>
<text x="133.00" y="902.11" font-size="8.90" text-anchor="end" >0.4</text>
<text x="133.00" y="875.49" font-size="8.90" text-anchor="end" >0.6</text>
<text x="133.00" y="848.87" font-size="8.90" text-anchor="end" >0.8</text>
<text x="133.00" y="822.25" font-size="8.90" text-anchor="end" >1.0</text>
<text x="157.30" y="979.30" font-size="12.80" text-anchor="middle" transform="rotate(-45 157.30 979.30)" dominant-baseline="central">29_12</text>
<text x="217.03" y="979.30" font-size="12.80" text-anchor="middle" transform="rotate(-45 217.03 979.30)" dominant-baseline="central">29_15</text>
<text x="276.77" y="979.30" font-size="12.80" text-anchor="middle" transform="rotate(-45 276.77 979.30)" dominant-baseline="central">29_18</text>
<text x="336.50" y="979.30" font-size="12.80" text-anchor="middle" transform="rotate(-45 336.50 979.30)" dominant-baseline="central">29_21</text>
<text x="396.23" y="979.30" font-size="12.80" text-anchor="middle" transform="rotate(-45 396.23 979.30)" dominant-baseline="central">30_00</text>
<text x="455.97" y="979.30" font-size="12.80" text-anchor="middle" transform="rotate(-45 455.97 979.30)" dominant-baseline="central">30_03</text>
<text x="515.70" y="979.30" font-size="12.80" text-anchor="middle" transform="rotate(-45 515.70 979.30)" dominant-baseline="central">30_06</text>
<text x="575.43" y="979.30" font-size="12.80" text-anchor="middle" transform="rotate(-45 575.43 979.30)" dominant-baseline="central">30_09</text>
<text x="635.17" y="979.30" font-size="12.80" text-anchor="middle" transform="rotate(-45 635.17 979.30)" dominant-baseline="central">30_12</text>
<text x="694.90" y="979.30" font-size="12.80" text-anchor="middle" transform="rotate(-45 694.90 979.30)" dominant-baseline="central">30_15</text>
<text x="754.63" y="979.30" font-size="12.80" text-anchor="middle" transform="rotate(-45 754.63 979.30)" dominant-baseline="central">30_18</text>
<text x="814.37" y="979.30" font-size="12.80" text-anchor="middle" transform="rotate(-45 814.37 979.30)" dominant-baseline="central">30_21</text>
<text x="874.10" y="979.30" font-size="12.80" text-anchor="middle" transform="rotate(-45 874.10 979.30)" dominant-baseline="central">31_00</text>
<text x="101.30" y="885.75" font-size="25.40" text-anchor="middle" transform="rotate(-90 101.30 885.75)" textLength="143.6" lengthAdjust="spacingAndGlyphs">PRECIP, mm</text>
<path d="M154.10 952.0H869.90" stroke="#0a6a0a" stroke-width="0.9" fill="none"/>
</svg></body></html>
